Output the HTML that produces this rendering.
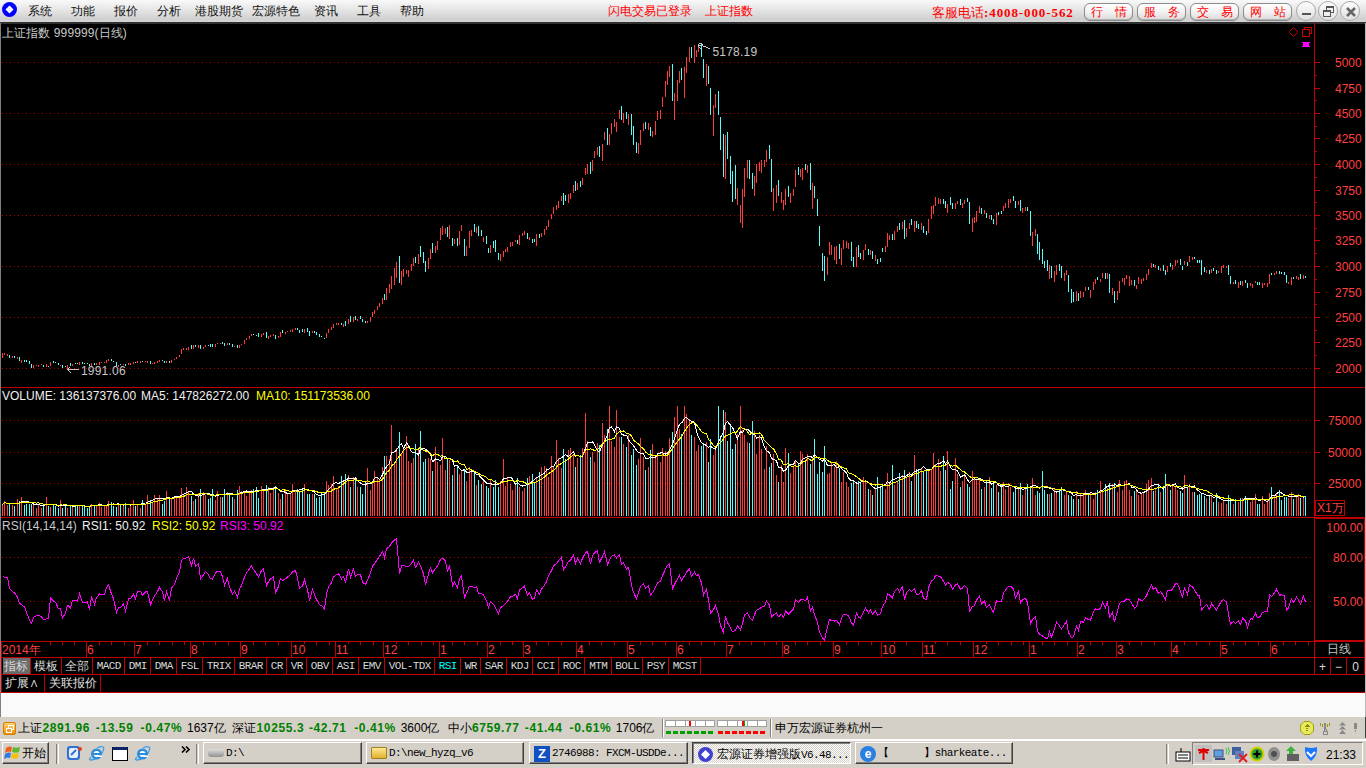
<!DOCTYPE html>
<html><head><meta charset="utf-8">
<style>
*{box-sizing:border-box}
html,body{margin:0;padding:0}
body{width:1366px;height:768px;overflow:hidden;position:relative;background:#000;font-family:"Liberation Sans",sans-serif;font-size:12px}
.a{position:absolute;white-space:nowrap;line-height:1}
#menu{left:0;top:0;width:1366px;height:24px;background:linear-gradient(#f9f9f9,#e5e5e5 45%,#cfcfcf 90%,#d4d4d4 94%);border-bottom:2px solid;border-color:#707070 transparent #303030}
.mi{position:absolute;top:5px;color:#111;font-size:12px;line-height:12px}
.ms{position:absolute;top:2px;width:1px;height:18px;background:linear-gradient(#f8f8f8,#d0d0d0)}
.btn{position:absolute;top:3px;height:18px;width:49px;border:1px solid #8c8c8c;border-radius:6px;background:linear-gradient(#ffffff,#f2f2f2 50%,#dadada);color:#ff0000;font-size:12px;line-height:12px;box-shadow:inset 0 -1px 0 #b0b0b0,0 1px 0 #c8c8c8}
.cb{position:absolute;top:1px;width:20px;height:20px;border-radius:50%;border:1px solid #a8a8a8;background:linear-gradient(#fdfdfd,#e0e0e0)}
.t{color:#c8c8c8}
.ind{position:absolute;top:657px;height:17px;border-right:1px solid #b00000;color:#d0d0d0;font-family:"Liberation Mono",monospace;font-size:11px;line-height:17px;text-align:center}
.ind.cj{font-family:"Liberation Sans",sans-serif;font-size:12px}
.st{position:absolute;top:721px;font-size:12px;line-height:14px;color:#000}
.g{color:#008000;font-weight:bold;letter-spacing:0.6px}
.tb{position:absolute;top:742px;height:24px;border:1px solid;border-color:#fff #404040 #404040 #fff;background:#d4d0c8;font-size:12px;line-height:22px;color:#000}
</style></head><body>
<div id="menu" class="a"></div>
<svg class="a" style="left:1px;top:1px" width="18" height="18"><circle cx="8.5" cy="8.5" r="7.5" fill="#0000ff"/><path d="M8.5 4.5L12.5 8.5L8.5 12.5L4.5 8.5Z" fill="#fff"/></svg>
<div class="mi" style="left:28px">系统</div>
<div class="mi" style="left:71px">功能</div>
<div class="mi" style="left:114px">报价</div>
<div class="mi" style="left:157px">分析</div>
<div class="mi" style="left:195px">港股期货</div>
<div class="mi" style="left:252px">宏源特色</div>
<div class="mi" style="left:314px">资讯</div>
<div class="mi" style="left:357px">工具</div>
<div class="mi" style="left:400px">帮助</div>
<div class="ms" style="left:19px"></div>
<div class="ms" style="left:62px"></div>
<div class="ms" style="left:105px"></div>
<div class="ms" style="left:148px"></div>
<div class="ms" style="left:191px"></div>
<div class="ms" style="left:245px"></div>
<div class="ms" style="left:305px"></div>
<div class="ms" style="left:348px"></div>
<div class="ms" style="left:391px"></div>
<div class="ms" style="left:434px"></div>
<div class="mi" style="left:608px;color:#ff0000">闪电交易已登录<span style="margin-left:13px">上证指数</span></div>
<div class="mi" style="left:932px;top:6px;color:#ff0000;font-size:13px;line-height:13px">客服电话<span style="font-family:'Liberation Serif',serif;font-weight:bold;letter-spacing:0.9px">:4008-000-562</span></div>
<div class="btn" style="left:1083.5px"><span style="position:absolute;left:6px;top:2px">行</span><span style="position:absolute;left:30px;top:2px">情</span></div>
<div class="btn" style="left:1136.5px"><span style="position:absolute;left:6px;top:2px">服</span><span style="position:absolute;left:30px;top:2px">务</span></div>
<div class="btn" style="left:1189.5px"><span style="position:absolute;left:6px;top:2px">交</span><span style="position:absolute;left:30px;top:2px">易</span></div>
<div class="btn" style="left:1242.5px"><span style="position:absolute;left:6px;top:2px">网</span><span style="position:absolute;left:30px;top:2px">站</span></div>
<div class="cb" style="left:1296px"><div style="position:absolute;left:5px;top:11px;width:9px;height:2px;background:#555"></div></div>
<div class="cb" style="left:1318px"><div style="position:absolute;left:7px;top:4px;width:8px;height:7px;border:1px solid #555;border-top-width:2px"></div><div style="position:absolute;left:4px;top:8px;width:8px;height:7px;border:1px solid #555;border-top-width:2px;background:#eee"></div></div>
<div class="cb" style="left:1340px"><svg style="position:absolute;left:4px;top:4px" width="12" height="12"><path d="M2 2L10 10M10 2L2 10" stroke="#666" stroke-width="2.5"/></svg></div>
<svg class="a" style="left:0;top:0" width="1366" height="768" shape-rendering="crispEdges">
<rect x="0" y="692" width="1366" height="26" fill="#fafafa"/>
<rect x="0" y="717" width="1366" height="51" fill="#d4d0c8"/>
<rect x="0" y="387" width="1366" height="1" fill="#c00000"/>
<rect x="0" y="517" width="1366" height="1" fill="#c00000"/>
<rect x="0" y="641" width="1366" height="1" fill="#c00000"/>
<rect x="0" y="657" width="1366" height="1" fill="#c00000"/>
<rect x="0" y="674" width="1366" height="1" fill="#c00000"/>
<rect x="0" y="692" width="1366" height="1" fill="#c00000"/>
<rect x="1314" y="23" width="1" height="618" fill="#c00000"/>
<rect x="1314.5" y="518.5" width="49.5" height="122" fill="none" stroke="#c00000"/>
<rect x="1315.5" y="500.5" width="29" height="15" fill="none" stroke="#c00000"/>
<rect x="1364" y="641" width="1" height="33" fill="#c00000"/>
<rect x="86" y="641" width="1" height="16" fill="#c00000"/>
<rect x="134" y="641" width="1" height="16" fill="#c00000"/>
<rect x="190" y="641" width="1" height="16" fill="#c00000"/>
<rect x="240" y="641" width="1" height="16" fill="#c00000"/>
<rect x="291" y="641" width="1" height="16" fill="#c00000"/>
<rect x="335" y="641" width="1" height="16" fill="#c00000"/>
<rect x="383" y="641" width="1" height="16" fill="#c00000"/>
<rect x="439" y="641" width="1" height="16" fill="#c00000"/>
<rect x="487" y="641" width="1" height="16" fill="#c00000"/>
<rect x="523" y="641" width="1" height="16" fill="#c00000"/>
<rect x="576" y="641" width="1" height="16" fill="#c00000"/>
<rect x="627" y="641" width="1" height="16" fill="#c00000"/>
<rect x="676" y="641" width="1" height="16" fill="#c00000"/>
<rect x="726" y="641" width="1" height="16" fill="#c00000"/>
<rect x="782" y="641" width="1" height="16" fill="#c00000"/>
<rect x="833" y="641" width="1" height="16" fill="#c00000"/>
<rect x="881" y="641" width="1" height="16" fill="#c00000"/>
<rect x="922" y="641" width="1" height="16" fill="#c00000"/>
<rect x="973" y="641" width="1" height="16" fill="#c00000"/>
<rect x="1029" y="641" width="1" height="16" fill="#c00000"/>
<rect x="1077" y="641" width="1" height="16" fill="#c00000"/>
<rect x="1116" y="641" width="1" height="16" fill="#c00000"/>
<rect x="1171" y="641" width="1" height="16" fill="#c00000"/>
<rect x="1220" y="641" width="1" height="16" fill="#c00000"/>
<rect x="1270" y="641" width="1" height="16" fill="#c00000"/>
<rect x="1314" y="641" width="1" height="33" fill="#c00000"/>
<rect x="1" y="641" width="1" height="51" fill="#c00000"/>
<rect x="30" y="657" width="1" height="17" fill="#c00000"/>
<rect x="61" y="657" width="1" height="17" fill="#c00000"/>
<rect x="92" y="657" width="1" height="17" fill="#c00000"/>
<rect x="124" y="657" width="1" height="17" fill="#c00000"/>
<rect x="150" y="657" width="1" height="17" fill="#c00000"/>
<rect x="176" y="657" width="1" height="17" fill="#c00000"/>
<rect x="202" y="657" width="1" height="17" fill="#c00000"/>
<rect x="234" y="657" width="1" height="17" fill="#c00000"/>
<rect x="266" y="657" width="1" height="17" fill="#c00000"/>
<rect x="286" y="657" width="1" height="17" fill="#c00000"/>
<rect x="306" y="657" width="1" height="17" fill="#c00000"/>
<rect x="332" y="657" width="1" height="17" fill="#c00000"/>
<rect x="358" y="657" width="1" height="17" fill="#c00000"/>
<rect x="384" y="657" width="1" height="17" fill="#c00000"/>
<rect x="434" y="657" width="1" height="17" fill="#c00000"/>
<rect x="460" y="657" width="1" height="17" fill="#c00000"/>
<rect x="480" y="657" width="1" height="17" fill="#c00000"/>
<rect x="506" y="657" width="1" height="17" fill="#c00000"/>
<rect x="532" y="657" width="1" height="17" fill="#c00000"/>
<rect x="558" y="657" width="1" height="17" fill="#c00000"/>
<rect x="584" y="657" width="1" height="17" fill="#c00000"/>
<rect x="611" y="657" width="1" height="17" fill="#c00000"/>
<rect x="642" y="657" width="1" height="17" fill="#c00000"/>
<rect x="668" y="657" width="1" height="17" fill="#c00000"/>
<rect x="700" y="657" width="1" height="17" fill="#c00000"/>
<rect x="1330" y="657" width="1" height="17" fill="#c00000"/>
<rect x="1346" y="657" width="1" height="17" fill="#c00000"/>
<rect x="3" y="658" width="27" height="16" fill="#6a6a6a"/>
<rect x="44" y="674" width="1" height="18" fill="#c00000"/>
<rect x="100" y="674" width="1" height="18" fill="#c00000"/>
<rect x="99" y="642" width="1" height="3" fill="#c00000"/>
<rect x="111" y="642" width="1" height="3" fill="#c00000"/>
<rect x="124" y="642" width="1" height="3" fill="#c00000"/>
<rect x="147" y="642" width="1" height="3" fill="#c00000"/>
<rect x="159" y="642" width="1" height="3" fill="#c00000"/>
<rect x="172" y="642" width="1" height="3" fill="#c00000"/>
<rect x="184" y="642" width="1" height="3" fill="#c00000"/>
<rect x="203" y="642" width="1" height="3" fill="#c00000"/>
<rect x="215" y="642" width="1" height="3" fill="#c00000"/>
<rect x="228" y="642" width="1" height="3" fill="#c00000"/>
<rect x="253" y="642" width="1" height="3" fill="#c00000"/>
<rect x="265" y="642" width="1" height="3" fill="#c00000"/>
<rect x="278" y="642" width="1" height="3" fill="#c00000"/>
<rect x="304" y="642" width="1" height="3" fill="#c00000"/>
<rect x="316" y="642" width="1" height="3" fill="#c00000"/>
<rect x="329" y="642" width="1" height="3" fill="#c00000"/>
<rect x="348" y="642" width="1" height="3" fill="#c00000"/>
<rect x="360" y="642" width="1" height="3" fill="#c00000"/>
<rect x="373" y="642" width="1" height="3" fill="#c00000"/>
<rect x="396" y="642" width="1" height="3" fill="#c00000"/>
<rect x="408" y="642" width="1" height="3" fill="#c00000"/>
<rect x="421" y="642" width="1" height="3" fill="#c00000"/>
<rect x="433" y="642" width="1" height="3" fill="#c00000"/>
<rect x="452" y="642" width="1" height="3" fill="#c00000"/>
<rect x="464" y="642" width="1" height="3" fill="#c00000"/>
<rect x="477" y="642" width="1" height="3" fill="#c00000"/>
<rect x="500" y="642" width="1" height="3" fill="#c00000"/>
<rect x="512" y="642" width="1" height="3" fill="#c00000"/>
<rect x="536" y="642" width="1" height="3" fill="#c00000"/>
<rect x="548" y="642" width="1" height="3" fill="#c00000"/>
<rect x="561" y="642" width="1" height="3" fill="#c00000"/>
<rect x="589" y="642" width="1" height="3" fill="#c00000"/>
<rect x="601" y="642" width="1" height="3" fill="#c00000"/>
<rect x="614" y="642" width="1" height="3" fill="#c00000"/>
<rect x="640" y="642" width="1" height="3" fill="#c00000"/>
<rect x="652" y="642" width="1" height="3" fill="#c00000"/>
<rect x="665" y="642" width="1" height="3" fill="#c00000"/>
<rect x="689" y="642" width="1" height="3" fill="#c00000"/>
<rect x="701" y="642" width="1" height="3" fill="#c00000"/>
<rect x="714" y="642" width="1" height="3" fill="#c00000"/>
<rect x="739" y="642" width="1" height="3" fill="#c00000"/>
<rect x="751" y="642" width="1" height="3" fill="#c00000"/>
<rect x="764" y="642" width="1" height="3" fill="#c00000"/>
<rect x="776" y="642" width="1" height="3" fill="#c00000"/>
<rect x="795" y="642" width="1" height="3" fill="#c00000"/>
<rect x="807" y="642" width="1" height="3" fill="#c00000"/>
<rect x="820" y="642" width="1" height="3" fill="#c00000"/>
<rect x="846" y="642" width="1" height="3" fill="#c00000"/>
<rect x="858" y="642" width="1" height="3" fill="#c00000"/>
<rect x="871" y="642" width="1" height="3" fill="#c00000"/>
<rect x="894" y="642" width="1" height="3" fill="#c00000"/>
<rect x="906" y="642" width="1" height="3" fill="#c00000"/>
<rect x="935" y="642" width="1" height="3" fill="#c00000"/>
<rect x="947" y="642" width="1" height="3" fill="#c00000"/>
<rect x="960" y="642" width="1" height="3" fill="#c00000"/>
<rect x="986" y="642" width="1" height="3" fill="#c00000"/>
<rect x="998" y="642" width="1" height="3" fill="#c00000"/>
<rect x="1011" y="642" width="1" height="3" fill="#c00000"/>
<rect x="1023" y="642" width="1" height="3" fill="#c00000"/>
<rect x="1042" y="642" width="1" height="3" fill="#c00000"/>
<rect x="1054" y="642" width="1" height="3" fill="#c00000"/>
<rect x="1067" y="642" width="1" height="3" fill="#c00000"/>
<rect x="1090" y="642" width="1" height="3" fill="#c00000"/>
<rect x="1102" y="642" width="1" height="3" fill="#c00000"/>
<rect x="1129" y="642" width="1" height="3" fill="#c00000"/>
<rect x="1141" y="642" width="1" height="3" fill="#c00000"/>
<rect x="1154" y="642" width="1" height="3" fill="#c00000"/>
<rect x="1184" y="642" width="1" height="3" fill="#c00000"/>
<rect x="1196" y="642" width="1" height="3" fill="#c00000"/>
<rect x="1209" y="642" width="1" height="3" fill="#c00000"/>
<rect x="1233" y="642" width="1" height="3" fill="#c00000"/>
<rect x="1245" y="642" width="1" height="3" fill="#c00000"/>
<rect x="1258" y="642" width="1" height="3" fill="#c00000"/>
<rect x="1283" y="642" width="1" height="3" fill="#c00000"/>
<rect x="1295" y="642" width="1" height="3" fill="#c00000"/>
<rect x="1308" y="642" width="1" height="3" fill="#c00000"/>
<rect x="50" y="642" width="1" height="3" fill="#c00000"/>
<rect x="62" y="642" width="1" height="3" fill="#c00000"/>
<rect x="74" y="642" width="1" height="3" fill="#c00000"/>
<rect x="1315" y="368" width="5" height="1" fill="#c00000"/>
<rect x="1315" y="342" width="5" height="1" fill="#c00000"/>
<rect x="1315" y="317" width="5" height="1" fill="#c00000"/>
<rect x="1315" y="292" width="5" height="1" fill="#c00000"/>
<rect x="1315" y="266" width="5" height="1" fill="#c00000"/>
<rect x="1315" y="240" width="5" height="1" fill="#c00000"/>
<rect x="1315" y="215" width="5" height="1" fill="#c00000"/>
<rect x="1315" y="190" width="5" height="1" fill="#c00000"/>
<rect x="1315" y="164" width="5" height="1" fill="#c00000"/>
<rect x="1315" y="138" width="5" height="1" fill="#c00000"/>
<rect x="1315" y="113" width="5" height="1" fill="#c00000"/>
<rect x="1315" y="88" width="5" height="1" fill="#c00000"/>
<rect x="1315" y="62" width="5" height="1" fill="#c00000"/>
<rect x="1315" y="355" width="2" height="1" fill="#c00000"/>
<rect x="1315" y="330" width="2" height="1" fill="#c00000"/>
<rect x="1315" y="304" width="2" height="1" fill="#c00000"/>
<rect x="1315" y="279" width="2" height="1" fill="#c00000"/>
<rect x="1315" y="253" width="2" height="1" fill="#c00000"/>
<rect x="1315" y="228" width="2" height="1" fill="#c00000"/>
<rect x="1315" y="202" width="2" height="1" fill="#c00000"/>
<rect x="1315" y="177" width="2" height="1" fill="#c00000"/>
<rect x="1315" y="151" width="2" height="1" fill="#c00000"/>
<rect x="1315" y="126" width="2" height="1" fill="#c00000"/>
<rect x="1315" y="100" width="2" height="1" fill="#c00000"/>
<rect x="1315" y="75" width="2" height="1" fill="#c00000"/>
<rect x="1315" y="420" width="5" height="1" fill="#c00000"/>
<rect x="1315" y="452" width="5" height="1" fill="#c00000"/>
<rect x="1315" y="483" width="5" height="1" fill="#c00000"/>
<rect x="0" y="23" width="1" height="694" fill="#808080"/>
<rect x="1365" y="23" width="1" height="715" fill="#b8b8b8"/>
<path d="M1293.5 27.5L1298 32L1293.5 36.5L1289 32Z" fill="none" stroke="#c00000" shape-rendering="auto"/>
<rect x="1304.5" y="27.5" width="7" height="6" fill="none" stroke="#c00000"/><rect x="1302.5" y="29.5" width="7" height="7" fill="#000" stroke="#c00000"/>
<rect x="1303" y="42" width="6" height="5" fill="#ff00ff"/><rect x="1302" y="42" width="1" height="1" fill="#ff00ff"/><rect x="1309" y="42" width="1" height="1" fill="#ff00ff"/><rect x="1302" y="46" width="1" height="1" fill="#ff00ff"/><rect x="1309" y="46" width="1" height="1" fill="#ff00ff"/>
<line x1="2" y1="62.5" x2="1314" y2="62.5" stroke="#b00000" stroke-dasharray="1 3"/>
<line x1="2" y1="113.5" x2="1314" y2="113.5" stroke="#b00000" stroke-dasharray="1 3"/>
<line x1="2" y1="164.5" x2="1314" y2="164.5" stroke="#b00000" stroke-dasharray="1 3"/>
<line x1="2" y1="215.5" x2="1314" y2="215.5" stroke="#b00000" stroke-dasharray="1 3"/>
<line x1="2" y1="266.5" x2="1314" y2="266.5" stroke="#b00000" stroke-dasharray="1 3"/>
<line x1="2" y1="317.5" x2="1314" y2="317.5" stroke="#b00000" stroke-dasharray="1 3"/>
<line x1="2" y1="368.5" x2="1314" y2="368.5" stroke="#b00000" stroke-dasharray="1 3"/>
<line x1="2" y1="420.5" x2="1314" y2="420.5" stroke="#b00000" stroke-dasharray="1 3"/>
<line x1="2" y1="452.5" x2="1314" y2="452.5" stroke="#b00000" stroke-dasharray="1 3"/>
<line x1="2" y1="483.5" x2="1314" y2="483.5" stroke="#b00000" stroke-dasharray="1 3"/>
<line x1="2" y1="557.5" x2="1314" y2="557.5" stroke="#b00000" stroke-dasharray="1 3"/>
<line x1="2" y1="601.5" x2="1314" y2="601.5" stroke="#b00000" stroke-dasharray="1 3"/>
<path d="M2.5 353.0V358.0M4.5 353.0V354.9M7.5 354.0V355.8M12.5 356.0V358.0M17.5 356.9V358.9M21.5 360.0V363.0M33.5 365.0V368.0M36.5 365.0V366.0M38.5 365.0V367.0M41.5 364.0V365.0M46.5 364.0V367.0M50.5 362.0V366.0M60.5 365.0V366.0M67.5 365.0V369.0M72.5 364.0V366.0M79.5 362.0V365.0M91.5 363.0V366.0M96.5 363.0V365.0M99.5 362.0V365.0M101.5 362.0V363.0M104.5 362.0V363.0M106.5 360.0V363.0M108.5 359.0V361.0M118.5 365.0V367.0M123.5 364.0V365.0M128.5 363.0V365.0M130.5 363.0V365.0M133.5 362.0V364.0M137.5 361.0V363.0M140.5 361.0V363.0M145.5 361.0V362.0M147.5 361.0V363.0M152.5 363.0V364.0M154.5 362.0V364.0M157.5 361.0V363.0M159.5 360.0V362.0M166.5 361.0V363.0M171.5 360.0V363.0M174.5 359.0V360.0M176.5 357.0V359.0M179.5 355.0V357.0M181.5 349.0V354.0M183.5 348.0V350.0M186.5 348.0V350.0M188.5 347.0V350.0M193.5 345.0V349.0M198.5 345.0V348.0M203.5 347.0V349.0M205.5 345.0V347.0M215.5 344.0V347.0M217.5 343.0V344.0M220.5 343.0V344.0M227.5 343.0V345.0M234.5 346.0V347.0M239.5 345.0V348.0M241.5 344.0V345.0M244.5 340.0V344.0M246.5 338.0V340.0M249.5 336.0V339.0M251.5 334.0V336.0M261.5 334.0V337.0M263.5 333.0V335.0M268.5 336.0V339.0M270.5 335.0V337.0M273.5 334.0V336.0M278.5 336.0V338.0M280.5 332.0V337.0M285.5 332.0V334.0M287.5 331.0V332.0M290.5 330.0V332.0M292.5 329.0V332.0M295.5 328.0V330.0M304.5 329.0V333.0M312.5 331.0V333.0M326.5 333.0V338.0M328.5 329.0V333.0M331.5 327.0V330.0M333.5 324.0V328.0M336.5 323.0V325.0M338.5 323.0V325.0M343.5 324.0V327.0M348.5 319.0V324.0M353.5 317.0V322.0M357.5 319.0V321.0M367.5 321.0V323.0M370.5 317.0V322.0M372.5 312.0V317.0M374.5 310.0V314.0M377.5 306.0V310.0M379.5 303.0V306.9M382.5 298.0V303.8M386.5 288.0V300.0M389.5 284.0V292.8M391.5 276.0V289.0M394.5 268.0V284.7M396.5 262.0V278.0M401.5 271.0V284.7M403.5 269.0V276.9M406.5 270.0V273.8M408.5 269.7V276.9M411.5 264.0V271.0M413.5 258.0V266.0M418.5 254.0V264.0M428.5 258.0V269.0M430.5 249.0V258.8M435.5 246.0V252.8M437.5 241.0V250.0M440.5 228.0V239.9M442.5 226.0V234.8M445.5 228.0V233.9M449.5 225.0V239.0M454.5 239.0V243.9M459.5 231.0V244.8M461.5 225.0V230.8M466.5 246.0V255.8M469.5 231.0V247.8M471.5 230.0V235.7M476.5 226.9V232.8M483.5 236.9V241.9M490.5 244.8V252.8M500.5 253.9V260.9M503.5 251.0V257.0M505.5 249.0V252.0M507.5 247.0V252.0M510.5 242.0V247.0M512.5 242.0V246.0M515.5 240.0V242.0M519.5 235.0V245.0M522.5 233.0V236.0M524.5 231.0V235.0M529.5 236.8V240.3M536.5 233.9V246.0M541.5 233.0V237.0M544.5 229.0V235.0M546.5 225.9V230.0M548.5 219.8V227.0M551.5 214.0V219.2M553.5 206.9V214.2M556.5 204.8V210.2M558.5 200.8V208.0M561.5 195.8V201.0M568.5 194.0V203.0M570.5 192.8V199.3M573.5 184.6V192.8M577.5 183.0V190.0M582.5 178.0V185.0M585.5 167.8V174.7M587.5 164.0V173.8M592.5 160.0V170.8M594.5 150.9V157.8M597.5 147.0V154.8M602.5 143.9V160.8M604.5 131.8V139.6M609.5 134.0V144.8M611.5 123.0V133.7M614.5 119.0V126.6M616.5 122.0V131.8M619.5 110.0V118.8M623.5 113.0V122.7M628.5 114.0V124.9M638.5 142.8V153.9M640.5 129.8V144.7M643.5 122.8V131.4M648.5 122.8V129.8M652.5 130.6V136.9M655.5 121.0V134.5M657.5 111.0V119.7M660.5 110.0V119.0M662.5 97.0V107.0M665.5 81.0V97.0M667.5 71.0V85.0M669.5 66.0V76.7M674.5 93.0V119.7M677.5 80.0V101.0M679.5 71.0V83.0M684.5 67.0V98.0M686.5 57.0V73.0M689.5 47.0V62.0M694.5 45.0V62.7M696.5 50.0V57.0M698.5 46.0V52.0M706.5 64.0V85.8M713.5 105.0V136.0M715.5 94.0V108.0M725.5 135.0V179.0M737.5 188.0V205.0M740.5 205.0V222.7M742.5 189.0V228.0M744.5 167.5V196.7M747.5 160.0V178.0M754.5 175.8V195.6M756.5 164.4V183.0M759.5 161.9V170.8M761.5 160.0V172.8M764.5 160.0V167.3M766.5 149.8V161.9M773.5 187.8V210.6M776.5 184.9V202.8M781.5 191.7V202.8M783.5 200.0V210.0M785.5 188.8V204.8M790.5 192.7V202.8M793.5 188.8V195.6M795.5 169.7V186.8M800.5 169.3V177.0M802.5 167.7V180.0M807.5 165.0V172.8M812.5 183.0V208.7M827.5 256.7V274.6M829.5 241.9V254.7M831.5 245.0V254.7M834.5 246.9V259.9M836.5 245.8V263.8M841.5 247.9V264.8M843.5 240.0V248.8M846.5 241.0V247.7M848.5 243.0V248.8M856.5 247.0V266.7M863.5 250.0V259.9M865.5 244.0V249.8M870.5 250.0V254.7M875.5 255.0V261.0M885.5 245.8V251.9M887.5 233.0V246.9M889.5 235.0V239.8M894.5 231.0V239.8M897.5 226.0V231.8M902.5 222.0V228.9M906.5 228.0V237.0M909.5 223.0V228.9M914.5 221.0V231.9M921.5 223.0V229.9M928.5 219.0V232.8M931.5 206.0V219.0M933.5 205.0V213.9M935.5 197.0V205.9M938.5 198.0V203.8M940.5 199.0V203.8M947.5 204.0V212.7M955.5 203.0V208.8M957.5 201.0V203.8M962.5 203.0V207.8M964.5 200.0V204.0M972.5 218.0V231.9M974.5 217.0V222.8M976.5 211.0V221.8M979.5 206.0V212.9M984.5 210.0V213.9M989.5 215.0V218.9M996.5 213.0V225.0M1003.5 206.0V211.0M1005.5 203.0V207.8M1008.5 199.0V207.8M1010.5 199.0V203.0M1018.5 201.0V204.9M1022.5 208.0V212.9M1025.5 206.9V210.6M1032.5 231.9V245.5M1035.5 229.0V235.6M1049.5 265.0V278.8M1054.5 271.0V281.9M1056.5 265.0V274.7M1064.5 273.0V281.0M1066.5 270.0V274.7M1076.5 290.8V300.6M1080.5 290.8V297.5M1083.5 291.9V297.0M1085.5 287.0V291.0M1090.5 290.0V298.0M1093.5 282.0V290.0M1095.5 279.0V284.0M1100.5 279.0V282.0M1102.5 273.0V278.0M1107.5 273.0V279.0M1112.5 288.0V295.0M1117.5 291.0V300.0M1119.5 281.0V293.0M1122.5 278.0V282.0M1124.5 278.0V285.0M1126.5 275.0V279.0M1129.5 276.0V286.0M1131.5 280.0V285.0M1136.5 285.0V289.0M1138.5 277.0V284.0M1141.5 279.0V284.0M1143.5 278.0V281.0M1146.5 274.0V280.0M1148.5 269.0V275.0M1151.5 263.0V268.0M1155.5 265.0V268.0M1160.5 268.0V271.0M1167.5 266.0V272.0M1172.5 265.0V270.0M1175.5 260.0V266.0M1177.5 260.0V263.0M1184.5 261.0V265.0M1189.5 256.0V262.0M1192.5 257.0V260.0M1206.5 270.0V273.0M1211.5 269.0V273.0M1218.5 271.0V273.0M1221.5 266.0V273.0M1223.5 265.0V268.0M1226.5 266.0V268.0M1233.5 282.0V284.0M1238.5 282.0V288.0M1242.5 281.0V286.0M1250.5 283.0V286.0M1252.5 284.0V288.0M1255.5 281.0V283.0M1262.5 283.0V288.0M1264.5 283.0V285.0M1267.5 283.0V287.0M1269.5 274.0V284.0M1274.5 273.0V275.0M1276.5 271.0V274.0M1288.5 282.0V284.0M1291.5 277.0V285.0M1296.5 276.0V279.0M1298.5 277.0V280.0M1303.5 275.0V279.0" stroke="#ff3c3c" stroke-width="1" fill="none"/>
<path d="M9.5 354.9V358.0M14.5 356.0V358.0M19.5 357.0V360.9M24.5 360.0V362.0M26.5 360.0V362.0M29.5 361.0V363.9M31.5 364.0V368.0M43.5 365.0V367.0M48.5 366.0V367.0M53.5 361.0V363.0M55.5 362.0V363.0M58.5 363.0V365.0M62.5 365.0V368.0M65.5 366.0V367.0M70.5 363.0V366.0M75.5 363.0V364.0M77.5 363.0V364.0M82.5 362.0V364.0M84.5 363.0V364.0M87.5 363.0V364.0M89.5 364.0V366.0M94.5 363.0V365.0M111.5 359.0V361.0M113.5 361.0V362.0M116.5 362.0V366.0M120.5 364.0V365.0M125.5 364.0V366.0M135.5 362.0V363.0M142.5 361.0V362.0M150.5 361.0V364.0M162.5 360.0V361.0M164.5 361.0V363.0M169.5 361.0V363.0M191.5 345.0V349.0M195.5 345.0V347.0M200.5 345.0V349.0M208.5 345.0V346.0M210.5 344.0V347.0M212.5 344.0V347.0M222.5 342.0V344.0M224.5 343.0V346.0M229.5 343.0V345.0M232.5 344.0V347.0M237.5 345.0V348.0M253.5 334.0V335.0M256.5 335.0V336.0M258.5 333.0V337.0M266.5 332.0V338.0M275.5 335.0V339.0M282.5 330.0V333.0M297.5 328.0V330.0M299.5 330.0V333.0M302.5 329.0V332.0M307.5 328.0V332.0M309.5 331.0V336.0M314.5 331.0V333.0M316.5 332.0V335.0M319.5 334.0V337.0M321.5 336.0V337.0M324.5 338.0V339.0M341.5 323.0V325.0M345.5 321.0V326.0M350.5 316.0V322.0M355.5 316.0V320.0M360.5 316.0V319.0M362.5 319.0V322.0M365.5 321.0V323.0M384.5 294.0V300.0M399.5 256.0V282.7M415.5 257.0V262.8M420.5 246.0V256.9M423.5 251.9V262.8M425.5 261.0V271.7M432.5 243.0V253.0M447.5 226.9V236.9M452.5 238.0V246.0M457.5 238.0V246.0M464.5 239.2V255.8M474.5 224.0V231.7M478.5 226.0V235.7M481.5 230.0V235.7M486.5 236.0V243.9M488.5 247.8V252.8M493.5 241.0V247.8M495.5 240.0V252.0M498.5 252.8V260.0M517.5 240.0V244.0M527.5 233.0V238.8M532.5 238.8V243.0M534.5 238.8V242.0M539.5 233.9V238.0M563.5 193.0V205.0M565.5 195.0V201.0M575.5 181.0V191.0M580.5 180.8V186.8M590.5 162.0V173.8M599.5 145.7V156.9M607.5 127.9V144.8M621.5 105.8V119.7M626.5 111.9V118.8M631.5 114.0V134.8M633.5 126.0V144.8M636.5 141.8V153.0M645.5 122.0V129.0M650.5 126.7V135.6M672.5 64.0V101.0M681.5 68.0V80.0M691.5 47.0V58.0M701.5 43.7V56.7M703.5 59.3V77.6M708.5 66.0V84.0M710.5 88.0V114.7M718.5 91.0V115.0M720.5 117.0V150.0M723.5 134.0V177.0M727.5 132.0V159.0M730.5 156.0V184.0M732.5 170.6V202.0M735.5 165.0V198.8M749.5 160.0V179.0M752.5 172.7V189.4M769.5 144.9V159.0M771.5 159.0V191.7M778.5 180.0V195.6M788.5 185.9V197.0M798.5 167.0V175.0M805.5 163.8V169.7M810.5 163.0V189.8M814.5 185.9V197.6M817.5 199.0V215.7M819.5 225.9V245.8M822.5 252.8V270.7M824.5 256.0V280.5M839.5 244.0V258.9M851.5 242.0V260.6M853.5 257.0V266.7M858.5 245.0V256.8M860.5 253.0V258.9M868.5 249.0V254.7M872.5 251.0V258.9M877.5 259.0V263.8M880.5 258.0V261.7M882.5 248.0V251.9M892.5 233.9V239.8M899.5 223.0V230.0M904.5 220.0V238.8M911.5 219.0V225.0M916.5 221.0V227.8M918.5 224.0V228.9M923.5 226.0V232.8M926.5 231.0V234.8M943.5 199.0V203.8M945.5 201.0V207.8M950.5 197.0V204.9M952.5 203.0V208.8M960.5 199.0V204.9M967.5 198.0V201.8M969.5 202.0V223.8M981.5 208.0V214.0M986.5 213.0V218.0M991.5 215.0V219.9M993.5 219.0V223.9M998.5 212.0V214.8M1001.5 211.0V214.0M1013.5 196.0V200.9M1015.5 201.0V207.8M1020.5 200.0V210.9M1027.5 206.9V210.6M1030.5 211.0V235.6M1037.5 234.0V253.8M1039.5 241.9V259.5M1042.5 249.0V263.8M1044.5 261.0V267.8M1047.5 260.0V271.0M1051.5 266.0V277.8M1059.5 264.0V271.0M1061.5 266.0V277.8M1068.5 275.0V291.9M1071.5 288.8V302.8M1073.5 291.9V301.7M1078.5 292.8V300.6M1088.5 287.0V290.0M1097.5 277.0V280.0M1105.5 273.0V279.0M1109.5 274.0V293.0M1114.5 291.0V303.0M1134.5 280.0V286.0M1153.5 264.0V267.0M1158.5 266.0V270.0M1163.5 265.0V271.0M1165.5 270.0V275.0M1170.5 263.0V267.0M1180.5 259.0V265.0M1182.5 266.0V270.0M1187.5 262.0V266.0M1194.5 257.0V259.0M1197.5 260.0V263.0M1199.5 260.0V263.0M1201.5 260.0V275.0M1204.5 267.0V272.0M1209.5 270.0V274.0M1213.5 268.0V271.0M1216.5 270.0V274.0M1228.5 265.0V275.0M1230.5 276.0V284.0M1235.5 280.0V284.0M1240.5 281.0V285.0M1245.5 280.0V283.0M1247.5 283.0V288.0M1257.5 282.0V285.0M1259.5 282.0V285.0M1271.5 273.0V275.0M1279.5 271.0V274.0M1281.5 272.0V274.0M1284.5 272.0V275.0M1286.5 275.0V283.0M1293.5 277.0V279.0M1300.5 274.0V279.0M1305.5 276.0V278.0" stroke="#54fcfc" stroke-width="1" fill="none"/>
<path d="M2.5 516V504.5M4.5 516V500.9M7.5 516V505.0M12.5 516V505.3M17.5 516V499.4M21.5 516V496.7M33.5 516V503.2M36.5 516V508.0M38.5 516V503.7M41.5 516V507.8M46.5 516V497.3M50.5 516V506.6M60.5 516V500.1M67.5 516V508.0M72.5 516V505.9M79.5 516V505.8M91.5 516V503.7M96.5 516V505.4M99.5 516V503.1M101.5 516V507.2M104.5 516V506.2M106.5 516V504.7M108.5 516V501.0M118.5 516V502.8M123.5 516V506.2M128.5 516V507.5M130.5 516V505.8M133.5 516V499.8M137.5 516V503.6M140.5 516V507.5M145.5 516V504.6M147.5 516V494.6M152.5 516V501.8M154.5 516V495.1M157.5 516V498.4M159.5 516V495.2M166.5 516V491.1M171.5 516V498.1M174.5 516V496.0M176.5 516V497.5M179.5 516V496.1M181.5 516V488.2M183.5 516V494.7M186.5 516V487.0M188.5 516V492.3M193.5 516V501.2M198.5 516V492.7M203.5 516V491.5M205.5 516V494.5M215.5 516V499.6M217.5 516V490.9M220.5 516V497.2M227.5 516V491.5M234.5 516V499.4M239.5 516V485.8M241.5 516V490.7M244.5 516V493.1M246.5 516V495.6M249.5 516V490.7M251.5 516V489.7M261.5 516V486.4M263.5 516V488.6M268.5 516V486.8M270.5 516V493.3M273.5 516V486.5M278.5 516V492.9M280.5 516V499.3M285.5 516V489.1M287.5 516V493.7M290.5 516V493.7M292.5 516V484.4M295.5 516V490.7M304.5 516V484.2M312.5 516V493.9M326.5 516V480.7M328.5 516V484.9M331.5 516V484.3M333.5 516V475.7M336.5 516V487.5M338.5 516V485.7M343.5 516V480.0M348.5 516V474.7M353.5 516V477.1M357.5 516V486.8M367.5 516V467.7M370.5 516V490.3M372.5 516V481.0M374.5 516V470.6M377.5 516V476.5M379.5 516V479.1M382.5 516V466.8M386.5 516V456.4M389.5 516V459.0M391.5 516V424.8M394.5 516V463.0M396.5 516V447.6M401.5 516V452.8M403.5 516V447.1M406.5 516V435.5M408.5 516V460.7M411.5 516V463.0M413.5 516V458.2M418.5 516V449.4M428.5 516V458.3M430.5 516V458.5M435.5 516V447.2M437.5 516V461.7M440.5 516V465.0M442.5 516V437.6M445.5 516V469.7M449.5 516V459.6M454.5 516V468.1M459.5 516V473.6M461.5 516V471.0M466.5 516V480.9M469.5 516V467.1M471.5 516V470.1M476.5 516V484.7M483.5 516V481.4M490.5 516V480.2M500.5 516V480.8M503.5 516V459.0M505.5 516V485.7M507.5 516V476.8M510.5 516V483.7M512.5 516V490.4M515.5 516V484.8M519.5 516V486.6M522.5 516V490.8M524.5 516V488.3M529.5 516V475.7M536.5 516V477.8M541.5 516V466.7M544.5 516V465.9M546.5 516V468.1M548.5 516V476.7M551.5 516V455.7M553.5 516V467.0M556.5 516V439.6M558.5 516V457.8M561.5 516V468.2M568.5 516V449.6M570.5 516V447.8M573.5 516V454.1M577.5 516V458.2M582.5 516V448.1M585.5 516V412.5M587.5 516V440.8M592.5 516V451.8M594.5 516V461.8M597.5 516V442.9M602.5 516V423.4M604.5 516V434.5M609.5 516V406.0M611.5 516V441.3M614.5 516V447.1M616.5 516V410.0M619.5 516V437.0M623.5 516V443.7M628.5 516V435.3M638.5 516V458.9M640.5 516V438.4M643.5 516V457.3M648.5 516V466.9M652.5 516V444.0M655.5 516V456.1M657.5 516V453.0M660.5 516V462.2M662.5 516V447.7M665.5 516V451.2M667.5 516V453.0M669.5 516V437.8M674.5 516V416.9M677.5 516V406.0M679.5 516V429.0M684.5 516V406.0M686.5 516V413.6M689.5 516V419.2M694.5 516V437.4M696.5 516V451.1M698.5 516V444.5M706.5 516V441.9M713.5 516V455.3M715.5 516V449.0M725.5 516V412.1M737.5 516V433.7M740.5 516V406.0M742.5 516V429.7M744.5 516V434.6M747.5 516V441.6M754.5 516V431.3M756.5 516V453.8M759.5 516V435.0M761.5 516V448.7M764.5 516V469.0M766.5 516V445.5M773.5 516V454.0M776.5 516V474.9M781.5 516V464.5M783.5 516V482.1M785.5 516V447.8M790.5 516V473.1M793.5 516V466.9M795.5 516V460.6M800.5 516V450.9M802.5 516V454.1M807.5 516V453.6M812.5 516V457.9M827.5 516V474.2M829.5 516V473.4M831.5 516V463.0M834.5 516V466.9M836.5 516V461.4M841.5 516V482.4M843.5 516V472.0M846.5 516V481.5M848.5 516V486.6M856.5 516V484.4M863.5 516V477.2M865.5 516V481.6M870.5 516V490.2M875.5 516V488.1M885.5 516V488.7M887.5 516V472.9M889.5 516V484.3M894.5 516V484.5M897.5 516V482.3M902.5 516V475.4M906.5 516V477.2M909.5 516V472.3M914.5 516V455.1M921.5 516V468.0M928.5 516V470.7M931.5 516V468.8M933.5 516V452.8M935.5 516V464.3M938.5 516V459.2M940.5 516V470.5M947.5 516V450.9M955.5 516V458.0M957.5 516V473.5M962.5 516V481.1M964.5 516V473.9M972.5 516V471.0M974.5 516V478.9M976.5 516V478.8M979.5 516V477.9M984.5 516V486.6M989.5 516V476.6M996.5 516V484.8M1003.5 516V482.1M1005.5 516V488.7M1008.5 516V483.4M1010.5 516V487.2M1018.5 516V489.0M1022.5 516V494.8M1025.5 516V486.5M1032.5 516V477.8M1035.5 516V494.8M1049.5 516V493.6M1054.5 516V487.8M1056.5 516V492.3M1064.5 516V494.6M1066.5 516V492.2M1076.5 516V491.3M1080.5 516V493.3M1083.5 516V492.5M1085.5 516V489.8M1090.5 516V491.7M1093.5 516V498.7M1095.5 516V491.9M1100.5 516V480.5M1102.5 516V490.5M1107.5 516V487.8M1112.5 516V483.6M1117.5 516V491.8M1119.5 516V479.6M1122.5 516V489.6M1124.5 516V480.5M1126.5 516V479.8M1129.5 516V489.6M1131.5 516V496.1M1136.5 516V491.4M1138.5 516V495.2M1141.5 516V492.5M1143.5 516V492.3M1146.5 516V484.2M1148.5 516V480.1M1151.5 516V478.1M1155.5 516V488.4M1160.5 516V492.4M1167.5 516V485.3M1172.5 516V484.2M1175.5 516V487.0M1177.5 516V490.1M1184.5 516V475.3M1189.5 516V483.6M1192.5 516V492.4M1206.5 516V498.3M1211.5 516V495.8M1218.5 516V502.2M1221.5 516V503.2M1223.5 516V500.5M1226.5 516V503.5M1233.5 516V504.4M1238.5 516V502.0M1242.5 516V497.9M1250.5 516V501.9M1252.5 516V498.4M1255.5 516V493.7M1262.5 516V496.4M1264.5 516V503.6M1267.5 516V500.1M1269.5 516V493.2M1274.5 516V495.8M1276.5 516V492.6M1288.5 516V497.9M1291.5 516V492.2M1296.5 516V496.0M1298.5 516V494.4M1303.5 516V498.4" stroke="#ff3c3c" fill="none"/>
<path d="M9.5 516V502.5M14.5 516V505.7M19.5 516V501.3M24.5 516V504.6M26.5 516V504.0M29.5 516V504.1M31.5 516V504.0M43.5 516V505.5M48.5 516V506.0M53.5 516V505.1M55.5 516V506.3M58.5 516V508.3M62.5 516V507.8M65.5 516V505.4M70.5 516V504.7M75.5 516V505.5M77.5 516V506.0M82.5 516V505.9M84.5 516V506.4M87.5 516V507.7M89.5 516V505.6M94.5 516V505.2M111.5 516V502.4M113.5 516V505.6M116.5 516V507.1M120.5 516V503.5M125.5 516V502.7M135.5 516V505.6M142.5 516V500.2M150.5 516V500.4M162.5 516V503.9M164.5 516V500.7M169.5 516V498.6M191.5 516V496.0M195.5 516V499.0M200.5 516V488.7M208.5 516V499.4M210.5 516V497.5M212.5 516V489.0M222.5 516V497.2M224.5 516V489.2M229.5 516V494.5M232.5 516V497.2M237.5 516V489.5M253.5 516V489.4M256.5 516V487.2M258.5 516V497.8M266.5 516V485.2M275.5 516V485.9M282.5 516V493.6M297.5 516V489.4M299.5 516V491.7M302.5 516V488.7M307.5 516V494.1M309.5 516V493.9M314.5 516V493.7M316.5 516V497.6M319.5 516V496.9M321.5 516V492.3M324.5 516V492.0M341.5 516V475.9M345.5 516V473.7M350.5 516V486.9M355.5 516V477.4M360.5 516V486.7M362.5 516V493.5M365.5 516V481.2M384.5 516V455.6M399.5 516V431.5M415.5 516V443.9M420.5 516V431.1M423.5 516V461.9M425.5 516V459.1M432.5 516V471.3M447.5 516V458.4M452.5 516V474.9M457.5 516V466.4M464.5 516V468.6M474.5 516V471.2M478.5 516V480.4M481.5 516V483.5M486.5 516V486.2M488.5 516V487.6M493.5 516V486.7M495.5 516V479.6M498.5 516V487.2M517.5 516V477.6M527.5 516V477.9M532.5 516V473.7M534.5 516V483.3M539.5 516V471.7M563.5 516V449.0M565.5 516V459.1M575.5 516V467.4M580.5 516V455.1M590.5 516V456.5M599.5 516V445.0M607.5 516V429.1M621.5 516V437.3M626.5 516V446.8M631.5 516V454.5M633.5 516V448.7M636.5 516V465.3M645.5 516V470.3M650.5 516V450.0M672.5 516V432.2M681.5 516V433.5M691.5 516V434.7M701.5 516V445.8M703.5 516V443.1M708.5 516V461.9M710.5 516V439.0M718.5 516V406.0M720.5 516V438.8M723.5 516V410.1M727.5 516V441.2M730.5 516V423.9M732.5 516V449.3M735.5 516V444.3M749.5 516V443.0M752.5 516V420.7M769.5 516V466.7M771.5 516V462.7M778.5 516V481.5M788.5 516V453.3M798.5 516V463.8M805.5 516V459.9M810.5 516V463.7M814.5 516V438.9M817.5 516V473.8M819.5 516V462.2M822.5 516V472.4M824.5 516V445.6M839.5 516V468.1M851.5 516V482.6M853.5 516V480.7M858.5 516V481.1M860.5 516V482.8M868.5 516V488.9M872.5 516V494.9M877.5 516V476.6M880.5 516V485.8M882.5 516V483.8M892.5 516V465.2M899.5 516V473.0M904.5 516V470.4M911.5 516V481.4M916.5 516V469.4M918.5 516V469.9M923.5 516V471.4M926.5 516V469.4M943.5 516V455.9M945.5 516V470.1M950.5 516V488.6M952.5 516V480.9M960.5 516V486.5M967.5 516V483.6M969.5 516V487.2M981.5 516V489.1M986.5 516V479.9M991.5 516V487.9M993.5 516V483.9M998.5 516V491.6M1001.5 516V484.8M1013.5 516V492.1M1015.5 516V488.6M1020.5 516V483.3M1027.5 516V484.3M1030.5 516V485.6M1037.5 516V490.5M1039.5 516V493.1M1042.5 516V471.2M1044.5 516V489.7M1047.5 516V493.6M1051.5 516V492.8M1059.5 516V489.4M1061.5 516V486.9M1068.5 516V494.9M1071.5 516V496.2M1073.5 516V498.9M1078.5 516V498.5M1088.5 516V495.2M1097.5 516V490.2M1105.5 516V484.3M1109.5 516V483.4M1114.5 516V482.8M1134.5 516V490.9M1153.5 516V490.8M1158.5 516V483.5M1163.5 516V489.2M1165.5 516V473.5M1170.5 516V490.0M1180.5 516V491.4M1182.5 516V492.6M1187.5 516V486.9M1194.5 516V491.9M1197.5 516V494.9M1199.5 516V493.9M1201.5 516V494.3M1204.5 516V495.8M1209.5 516V494.7M1213.5 516V501.7M1216.5 516V493.2M1228.5 516V495.3M1230.5 516V499.7M1235.5 516V499.3M1240.5 516V497.6M1245.5 516V495.9M1247.5 516V499.4M1257.5 516V504.0M1259.5 516V504.0M1271.5 516V486.9M1279.5 516V490.1M1281.5 516V499.9M1284.5 516V497.3M1286.5 516V497.0M1293.5 516V498.7M1300.5 516V497.7M1305.5 516V496.0" stroke="#54fcfc" fill="none"/>
<polyline points="2.5,504.5 4.5,502.7 7.5,503.5 9.5,503.2 12.5,503.6 14.5,503.9 17.5,503.6 19.5,502.8 21.5,501.7 24.5,501.5 26.5,501.2 29.5,502.1 31.5,502.7 33.5,504.0 36.5,504.6 38.5,504.6 41.5,505.3 43.5,505.6 46.5,504.5 48.5,504.1 50.5,504.6 53.5,504.1 55.5,504.3 58.5,506.4 60.5,505.3 62.5,505.5 65.5,505.6 67.5,505.9 70.5,505.2 72.5,506.3 75.5,505.9 77.5,506.0 79.5,505.6 82.5,505.8 84.5,505.9 87.5,506.4 89.5,506.3 91.5,505.9 94.5,505.7 96.5,505.5 99.5,504.6 101.5,504.9 104.5,505.4 106.5,505.3 108.5,504.4 111.5,504.3 113.5,504.0 116.5,504.1 118.5,503.8 120.5,504.3 123.5,505.0 125.5,504.4 128.5,504.5 130.5,505.1 133.5,504.4 135.5,504.3 137.5,504.4 140.5,504.5 142.5,503.3 145.5,504.3 147.5,502.1 150.5,501.5 152.5,500.3 154.5,499.3 157.5,498.1 159.5,498.2 162.5,498.9 164.5,498.7 166.5,497.9 169.5,497.9 171.5,498.5 174.5,496.9 176.5,496.2 179.5,497.2 181.5,495.2 183.5,494.5 186.5,492.7 188.5,491.6 191.5,491.6 193.5,494.2 195.5,495.1 198.5,496.2 200.5,495.5 203.5,494.6 205.5,493.3 208.5,493.4 210.5,494.3 212.5,494.4 215.5,496.0 217.5,495.3 220.5,494.8 222.5,494.8 224.5,494.8 227.5,493.2 229.5,493.9 232.5,493.9 234.5,494.3 237.5,494.4 239.5,493.3 241.5,492.5 244.5,491.7 246.5,491.0 249.5,491.2 251.5,492.0 253.5,491.7 256.5,490.5 258.5,491.0 261.5,490.1 263.5,489.9 266.5,489.1 268.5,489.0 270.5,488.1 273.5,488.1 275.5,487.5 278.5,489.1 280.5,491.6 282.5,491.6 285.5,492.2 287.5,493.7 290.5,493.9 292.5,490.9 295.5,490.3 297.5,490.4 299.5,490.0 302.5,489.0 304.5,488.9 307.5,489.6 309.5,490.5 312.5,491.0 314.5,492.0 316.5,494.7 319.5,495.2 321.5,494.9 324.5,494.5 326.5,491.9 328.5,489.4 331.5,486.8 333.5,483.5 336.5,482.6 338.5,483.6 341.5,481.8 343.5,481.0 345.5,480.6 348.5,478.0 350.5,478.2 353.5,478.5 355.5,478.0 357.5,480.6 360.5,483.0 362.5,484.3 365.5,485.1 367.5,483.2 370.5,483.9 372.5,482.7 374.5,478.1 377.5,477.2 379.5,479.5 382.5,474.8 384.5,469.7 386.5,466.9 389.5,463.4 391.5,452.5 394.5,451.8 396.5,450.2 399.5,445.2 401.5,443.9 403.5,448.4 406.5,442.9 408.5,445.5 411.5,451.8 413.5,452.9 415.5,452.3 418.5,455.0 420.5,449.1 423.5,448.9 425.5,449.1 428.5,451.9 430.5,453.8 432.5,461.8 435.5,458.9 437.5,459.4 440.5,460.7 442.5,456.6 445.5,456.2 447.5,458.5 449.5,458.1 452.5,460.0 454.5,466.1 457.5,465.5 459.5,468.5 461.5,470.8 464.5,469.6 466.5,472.1 469.5,472.2 471.5,471.5 474.5,471.6 476.5,474.8 478.5,474.7 481.5,478.0 483.5,480.2 486.5,483.2 488.5,483.8 490.5,483.8 493.5,484.4 495.5,484.0 498.5,484.3 500.5,482.9 503.5,478.7 505.5,478.5 507.5,477.9 510.5,477.2 512.5,479.1 515.5,484.3 517.5,482.7 519.5,484.6 522.5,486.0 524.5,485.6 527.5,484.2 529.5,483.9 532.5,481.3 534.5,479.8 536.5,477.7 539.5,476.4 541.5,474.6 544.5,473.1 546.5,470.0 548.5,469.8 551.5,466.6 553.5,466.7 556.5,461.4 558.5,459.4 561.5,457.7 563.5,456.3 565.5,454.7 568.5,456.7 570.5,454.7 573.5,451.9 575.5,455.6 577.5,455.4 580.5,456.5 582.5,456.6 585.5,448.2 587.5,442.9 590.5,442.6 592.5,441.9 594.5,444.7 597.5,450.7 599.5,451.6 602.5,445.0 604.5,441.5 607.5,435.0 609.5,427.6 611.5,426.9 614.5,431.6 616.5,426.7 619.5,428.3 621.5,434.6 623.5,435.0 626.5,435.0 628.5,440.0 631.5,443.5 633.5,445.8 636.5,450.1 638.5,452.6 640.5,453.2 643.5,453.7 645.5,458.0 648.5,458.3 650.5,456.6 652.5,457.7 655.5,457.5 657.5,454.0 660.5,453.0 662.5,452.6 665.5,454.0 667.5,453.4 669.5,450.4 672.5,444.4 674.5,438.2 677.5,429.2 679.5,424.4 681.5,423.5 684.5,418.3 686.5,417.6 689.5,420.2 691.5,421.4 694.5,422.2 696.5,431.2 698.5,437.4 701.5,442.7 703.5,444.4 706.5,445.3 708.5,447.4 710.5,446.3 713.5,448.2 715.5,449.4 718.5,442.2 720.5,437.6 723.5,431.8 725.5,423.2 727.5,421.7 730.5,425.2 732.5,427.3 735.5,434.2 737.5,438.5 740.5,431.4 742.5,432.6 744.5,429.6 747.5,429.1 749.5,431.0 752.5,433.9 754.5,434.2 756.5,438.1 759.5,436.8 761.5,437.9 764.5,447.6 766.5,450.4 769.5,453.0 771.5,458.5 773.5,459.6 776.5,460.7 778.5,467.9 781.5,467.5 783.5,471.4 785.5,470.1 788.5,465.8 790.5,464.1 793.5,464.6 795.5,460.3 798.5,463.5 800.5,463.1 802.5,459.3 805.5,457.9 807.5,456.5 810.5,456.4 812.5,457.8 814.5,454.8 817.5,457.6 819.5,459.3 822.5,461.1 824.5,458.6 827.5,465.6 829.5,465.6 831.5,465.7 834.5,464.6 836.5,467.8 839.5,466.6 841.5,468.4 843.5,470.2 846.5,473.1 848.5,478.1 851.5,481.0 853.5,480.7 856.5,483.1 858.5,483.1 860.5,482.3 863.5,481.2 865.5,481.4 868.5,482.3 870.5,484.1 872.5,486.6 875.5,488.7 877.5,487.7 880.5,487.1 882.5,485.8 885.5,484.6 887.5,481.6 889.5,483.1 892.5,479.0 894.5,479.1 897.5,477.9 899.5,477.9 902.5,476.1 904.5,477.1 906.5,475.7 909.5,473.7 911.5,475.3 914.5,471.3 916.5,471.1 918.5,469.6 921.5,468.8 923.5,466.8 926.5,469.6 928.5,469.9 931.5,469.6 933.5,466.6 935.5,465.2 938.5,463.1 940.5,463.1 943.5,460.5 945.5,464.0 947.5,461.3 950.5,467.2 952.5,469.3 955.5,469.7 957.5,470.4 960.5,477.5 962.5,476.0 964.5,474.6 967.5,479.7 969.5,482.5 972.5,479.4 974.5,478.9 976.5,479.9 979.5,478.7 981.5,479.1 984.5,482.3 986.5,482.5 989.5,482.0 991.5,484.1 993.5,483.0 996.5,482.7 998.5,485.0 1001.5,486.6 1003.5,485.5 1005.5,486.4 1008.5,486.1 1010.5,485.2 1013.5,486.7 1015.5,488.0 1018.5,488.0 1020.5,488.0 1022.5,489.6 1025.5,488.4 1027.5,487.6 1030.5,486.9 1032.5,485.8 1035.5,485.8 1037.5,486.6 1039.5,488.4 1042.5,485.5 1044.5,487.9 1047.5,487.6 1049.5,488.2 1051.5,488.2 1054.5,491.5 1056.5,492.0 1059.5,491.2 1061.5,489.8 1064.5,490.2 1066.5,491.1 1068.5,491.6 1071.5,493.0 1073.5,495.4 1076.5,494.7 1078.5,496.0 1080.5,495.6 1083.5,494.9 1085.5,493.1 1088.5,493.8 1090.5,492.5 1093.5,493.6 1095.5,493.4 1097.5,493.5 1100.5,490.6 1102.5,490.3 1105.5,487.4 1107.5,486.6 1109.5,485.3 1112.5,485.9 1114.5,484.4 1117.5,485.9 1119.5,484.2 1122.5,485.5 1124.5,484.9 1126.5,484.3 1129.5,483.8 1131.5,487.1 1134.5,487.4 1136.5,489.6 1138.5,492.6 1141.5,493.2 1143.5,492.5 1146.5,491.1 1148.5,488.9 1151.5,485.5 1153.5,485.1 1155.5,484.3 1158.5,484.2 1160.5,486.7 1163.5,488.9 1165.5,485.4 1167.5,484.8 1170.5,486.1 1172.5,484.4 1175.5,484.0 1177.5,487.3 1180.5,488.5 1182.5,489.1 1184.5,487.3 1187.5,487.3 1189.5,486.0 1192.5,486.2 1194.5,486.0 1197.5,490.0 1199.5,491.4 1201.5,493.5 1204.5,494.2 1206.5,495.4 1209.5,495.4 1211.5,495.8 1213.5,497.3 1216.5,496.7 1218.5,497.5 1221.5,499.2 1223.5,500.2 1226.5,500.5 1228.5,500.9 1230.5,500.4 1233.5,500.7 1235.5,500.4 1238.5,500.1 1240.5,500.6 1242.5,500.2 1245.5,498.5 1247.5,498.5 1250.5,498.5 1252.5,498.7 1255.5,497.8 1257.5,499.5 1259.5,500.4 1262.5,499.3 1264.5,500.3 1267.5,501.6 1269.5,499.5 1271.5,496.0 1274.5,495.9 1276.5,493.7 1279.5,491.7 1281.5,493.1 1284.5,495.1 1286.5,495.4 1288.5,496.4 1291.5,496.9 1293.5,496.6 1296.5,496.4 1298.5,495.8 1300.5,495.8 1303.5,497.1 1305.5,496.5" stroke="#ffffff" fill="none"/>
<polyline points="2.5,504.5 4.5,502.7 7.5,503.5 9.5,503.2 12.5,503.6 14.5,504.0 17.5,503.3 19.5,503.1 21.5,502.4 24.5,502.6 26.5,502.5 29.5,502.9 31.5,502.8 33.5,502.8 36.5,503.1 38.5,502.9 41.5,503.7 43.5,504.2 46.5,504.2 48.5,504.4 50.5,504.6 53.5,504.7 55.5,504.9 58.5,505.5 60.5,504.7 62.5,505.1 65.5,504.8 67.5,505.1 70.5,505.8 72.5,505.8 75.5,505.7 77.5,505.8 79.5,505.7 82.5,505.5 84.5,506.1 87.5,506.1 89.5,506.1 91.5,505.7 94.5,505.8 96.5,505.7 99.5,505.5 101.5,505.6 104.5,505.6 106.5,505.5 108.5,505.0 111.5,504.4 113.5,504.4 116.5,504.8 118.5,504.5 120.5,504.3 123.5,504.7 125.5,504.2 128.5,504.3 130.5,504.4 133.5,504.3 135.5,504.6 137.5,504.4 140.5,504.5 142.5,504.2 145.5,504.3 147.5,503.2 150.5,503.0 152.5,502.4 154.5,501.3 157.5,501.2 159.5,500.1 162.5,500.2 164.5,499.5 166.5,498.6 169.5,498.0 171.5,498.3 174.5,497.9 176.5,497.5 179.5,497.6 181.5,496.5 183.5,496.5 186.5,494.8 188.5,493.9 191.5,494.4 193.5,494.7 195.5,494.8 198.5,494.5 200.5,493.6 203.5,493.1 205.5,493.8 208.5,494.2 210.5,495.3 212.5,495.0 215.5,495.3 217.5,494.3 220.5,494.1 222.5,494.6 224.5,494.6 227.5,494.6 229.5,494.6 232.5,494.4 234.5,494.6 237.5,494.6 239.5,493.2 241.5,493.2 244.5,492.8 246.5,492.7 249.5,492.8 251.5,492.6 253.5,492.1 256.5,491.1 258.5,491.0 261.5,490.6 263.5,490.9 266.5,490.4 268.5,489.7 270.5,489.5 273.5,489.1 275.5,488.7 278.5,489.1 280.5,490.3 282.5,489.8 285.5,490.1 287.5,490.6 290.5,491.5 292.5,491.2 295.5,491.0 297.5,491.3 299.5,491.9 302.5,491.4 304.5,489.9 307.5,490.0 309.5,490.5 312.5,490.5 314.5,490.5 316.5,491.8 319.5,492.4 321.5,492.7 324.5,492.7 326.5,491.9 328.5,492.0 331.5,491.0 333.5,489.2 336.5,488.6 338.5,487.8 341.5,485.6 343.5,483.9 345.5,482.0 348.5,480.3 350.5,480.9 353.5,480.2 355.5,479.5 357.5,480.6 360.5,480.5 362.5,481.3 365.5,481.8 367.5,480.6 370.5,482.2 372.5,482.9 374.5,481.2 377.5,481.2 379.5,481.3 382.5,479.3 384.5,476.2 386.5,472.5 389.5,470.3 391.5,466.0 394.5,463.3 396.5,459.9 399.5,456.0 401.5,453.7 403.5,450.5 406.5,447.3 408.5,447.8 411.5,448.5 413.5,448.4 415.5,450.3 418.5,449.0 420.5,447.3 423.5,450.4 425.5,451.0 428.5,452.1 430.5,454.4 432.5,455.5 435.5,453.9 437.5,454.2 440.5,456.3 442.5,455.2 445.5,459.0 447.5,458.7 449.5,458.7 452.5,460.4 454.5,461.3 457.5,460.9 459.5,463.5 461.5,464.4 464.5,464.8 466.5,469.1 469.5,468.9 471.5,470.0 474.5,471.2 476.5,472.2 478.5,473.4 481.5,475.1 483.5,475.9 486.5,477.4 488.5,479.3 490.5,479.2 493.5,481.2 495.5,482.1 498.5,483.7 500.5,483.4 503.5,481.2 505.5,481.4 507.5,481.0 510.5,480.7 512.5,481.0 515.5,481.5 517.5,480.6 519.5,481.3 522.5,481.6 524.5,482.4 527.5,484.3 529.5,483.3 532.5,482.9 534.5,482.9 536.5,481.6 539.5,480.3 541.5,479.2 544.5,477.2 546.5,474.9 548.5,473.7 551.5,471.5 553.5,470.6 556.5,467.2 558.5,464.7 561.5,463.7 563.5,461.5 565.5,460.7 568.5,459.1 570.5,457.1 573.5,454.8 575.5,456.0 577.5,455.1 580.5,456.6 582.5,455.7 585.5,450.1 587.5,449.3 590.5,449.0 592.5,449.2 594.5,450.6 597.5,449.5 599.5,447.3 602.5,443.8 604.5,441.7 607.5,439.8 609.5,439.2 611.5,439.2 614.5,438.3 616.5,434.1 619.5,431.6 621.5,431.1 623.5,431.0 626.5,433.3 628.5,433.4 631.5,435.9 633.5,440.2 636.5,442.6 638.5,443.8 640.5,446.6 643.5,448.6 645.5,451.9 648.5,454.2 650.5,454.6 652.5,455.4 655.5,455.6 657.5,456.0 660.5,455.7 662.5,454.6 665.5,455.9 667.5,455.4 669.5,452.2 672.5,448.7 674.5,445.4 677.5,441.6 679.5,438.9 681.5,436.9 684.5,431.3 686.5,427.9 689.5,424.7 691.5,422.9 694.5,422.8 696.5,424.7 698.5,427.5 701.5,431.5 703.5,432.9 706.5,433.7 708.5,439.3 710.5,441.8 713.5,445.5 715.5,446.9 718.5,443.7 720.5,442.5 723.5,439.1 725.5,435.7 727.5,435.5 730.5,433.7 732.5,432.5 735.5,433.0 737.5,430.8 740.5,426.5 742.5,428.9 744.5,428.5 747.5,431.6 749.5,434.7 752.5,432.7 754.5,433.4 756.5,433.9 759.5,432.9 761.5,434.4 764.5,440.7 766.5,442.3 769.5,445.5 771.5,447.6 773.5,448.7 776.5,454.1 778.5,459.2 781.5,460.2 783.5,464.9 785.5,464.8 788.5,463.3 790.5,466.0 793.5,466.1 795.5,465.9 798.5,466.8 800.5,464.4 802.5,461.7 805.5,461.2 807.5,458.4 810.5,460.0 812.5,460.5 814.5,457.0 817.5,457.7 819.5,457.9 822.5,458.7 824.5,458.2 827.5,460.2 829.5,461.6 831.5,462.5 834.5,462.8 836.5,463.2 839.5,466.1 841.5,467.0 843.5,467.9 846.5,468.8 848.5,472.9 851.5,473.8 853.5,474.5 856.5,476.7 858.5,478.1 860.5,480.2 863.5,481.1 865.5,481.0 868.5,482.7 870.5,483.6 872.5,484.4 875.5,485.0 877.5,484.6 880.5,484.7 882.5,485.0 885.5,485.6 887.5,485.1 889.5,485.4 892.5,483.0 894.5,482.5 897.5,481.2 899.5,479.7 902.5,479.6 904.5,478.1 906.5,477.4 909.5,475.8 911.5,476.6 914.5,473.7 916.5,474.1 918.5,472.6 921.5,471.2 923.5,471.1 926.5,470.5 928.5,470.5 931.5,469.6 933.5,467.7 935.5,466.0 938.5,466.4 940.5,466.5 943.5,465.1 945.5,465.3 947.5,463.2 950.5,465.2 952.5,466.2 955.5,465.1 957.5,467.2 960.5,469.4 962.5,471.6 964.5,471.9 967.5,474.7 969.5,476.4 972.5,478.4 974.5,477.5 976.5,477.2 979.5,479.2 981.5,480.8 984.5,480.8 986.5,480.7 989.5,481.0 991.5,481.4 993.5,481.1 996.5,482.5 998.5,483.7 1001.5,484.3 1003.5,484.8 1005.5,484.7 1008.5,484.4 1010.5,485.1 1013.5,486.7 1015.5,486.7 1018.5,487.2 1020.5,487.1 1022.5,487.4 1025.5,487.6 1027.5,487.8 1030.5,487.5 1032.5,486.9 1035.5,487.7 1037.5,487.5 1039.5,488.0 1042.5,486.2 1044.5,486.8 1047.5,486.7 1049.5,487.4 1051.5,488.3 1054.5,488.5 1056.5,489.9 1059.5,489.4 1061.5,489.0 1064.5,489.2 1066.5,491.3 1068.5,491.8 1071.5,492.1 1073.5,492.6 1076.5,492.5 1078.5,493.5 1080.5,493.6 1083.5,493.9 1085.5,494.2 1088.5,494.3 1090.5,494.2 1093.5,494.6 1095.5,494.2 1097.5,493.3 1100.5,492.2 1102.5,491.4 1105.5,490.5 1107.5,490.0 1109.5,489.4 1112.5,488.2 1114.5,487.3 1117.5,486.7 1119.5,485.4 1122.5,485.4 1124.5,485.4 1126.5,484.3 1129.5,484.9 1131.5,485.7 1134.5,486.4 1136.5,487.2 1138.5,488.5 1141.5,488.5 1143.5,489.8 1146.5,489.3 1148.5,489.2 1151.5,489.1 1153.5,489.2 1155.5,488.4 1158.5,487.7 1160.5,487.8 1163.5,487.2 1165.5,485.3 1167.5,484.6 1170.5,485.1 1172.5,485.5 1175.5,486.4 1177.5,486.4 1180.5,486.7 1182.5,487.6 1184.5,485.9 1187.5,485.6 1189.5,486.6 1192.5,487.4 1194.5,487.5 1197.5,488.6 1199.5,489.3 1201.5,489.7 1204.5,490.2 1206.5,490.7 1209.5,492.7 1211.5,493.6 1213.5,495.4 1216.5,495.5 1218.5,496.5 1221.5,497.3 1223.5,498.0 1226.5,498.9 1228.5,498.8 1230.5,499.0 1233.5,500.0 1235.5,500.3 1238.5,500.3 1240.5,500.8 1242.5,500.3 1245.5,499.6 1247.5,499.5 1250.5,499.3 1252.5,499.6 1255.5,499.0 1257.5,499.0 1259.5,499.5 1262.5,498.9 1264.5,499.5 1267.5,499.7 1269.5,499.5 1271.5,498.2 1274.5,497.6 1276.5,497.0 1279.5,496.7 1281.5,496.3 1284.5,495.6 1286.5,495.7 1288.5,495.1 1291.5,494.3 1293.5,494.8 1296.5,495.8 1298.5,495.6 1300.5,496.1 1303.5,497.0 1305.5,496.6" stroke="#ffff00" fill="none"/>
<polyline points="2.5,576.7 4.5,577.1 7.5,577.7 9.5,588.3 12.5,591.9 14.5,592.7 17.5,597.3 19.5,603.4 21.5,604.6 24.5,607.0 26.5,612.3 29.5,620.3 31.5,623.3 33.5,617.3 36.5,615.9 38.5,615.1 41.5,616.8 43.5,619.5 46.5,618.8 48.5,618.3 50.5,597.8 53.5,601.2 55.5,602.2 58.5,608.8 60.5,608.9 62.5,617.8 65.5,613.1 67.5,605.2 70.5,608.1 72.5,600.1 75.5,600.7 77.5,601.2 79.5,593.9 82.5,602.2 84.5,602.4 87.5,601.9 89.5,609.7 91.5,596.9 94.5,604.4 96.5,597.6 99.5,594.0 101.5,594.3 104.5,594.6 106.5,587.6 108.5,584.7 111.5,594.1 113.5,598.5 116.5,612.4 118.5,607.7 120.5,607.8 123.5,603.8 125.5,610.8 128.5,598.9 130.5,598.8 133.5,594.4 135.5,598.8 137.5,591.4 140.5,591.1 142.5,595.5 145.5,591.9 147.5,591.3 150.5,604.7 152.5,599.8 154.5,595.9 157.5,591.6 159.5,587.4 162.5,592.0 164.5,600.5 166.5,591.8 169.5,599.7 171.5,588.1 174.5,584.3 176.5,578.3 179.5,572.3 181.5,560.5 183.5,558.6 186.5,558.0 188.5,556.4 191.5,565.4 193.5,557.9 195.5,566.4 198.5,563.5 200.5,578.8 203.5,575.0 205.5,571.4 208.5,574.7 210.5,578.9 212.5,579.1 215.5,572.9 217.5,571.1 220.5,571.7 222.5,576.7 224.5,585.4 227.5,578.5 229.5,586.8 232.5,594.0 234.5,591.1 237.5,597.4 239.5,588.6 241.5,585.8 244.5,577.1 246.5,572.9 249.5,568.9 251.5,565.8 253.5,569.6 256.5,573.6 258.5,576.9 261.5,570.6 263.5,568.6 266.5,586.1 268.5,581.3 270.5,579.0 273.5,576.9 275.5,592.8 278.5,586.4 280.5,578.5 282.5,580.7 285.5,578.8 287.5,577.0 290.5,574.7 292.5,571.9 295.5,570.5 297.5,578.2 299.5,588.2 302.5,586.1 304.5,579.8 307.5,589.6 309.5,600.8 312.5,589.6 314.5,594.6 316.5,599.7 319.5,604.9 321.5,605.2 324.5,609.1 326.5,594.3 328.5,586.9 331.5,582.9 333.5,576.9 336.5,574.7 338.5,573.6 341.5,578.8 343.5,576.7 345.5,582.0 348.5,569.1 350.5,577.3 353.5,569.2 355.5,576.7 357.5,574.7 360.5,574.6 362.5,582.1 365.5,584.7 367.5,580.0 370.5,573.2 372.5,565.9 374.5,563.8 377.5,559.3 379.5,556.2 382.5,551.6 384.5,557.9 386.5,548.7 389.5,546.6 391.5,542.8 394.5,540.1 396.5,538.6 399.5,573.5 401.5,566.0 403.5,565.3 406.5,566.9 408.5,566.8 411.5,563.4 413.5,560.4 415.5,567.3 418.5,562.0 420.5,565.8 423.5,573.7 425.5,584.5 428.5,574.0 430.5,567.9 432.5,572.7 435.5,568.5 437.5,565.9 440.5,559.4 442.5,558.2 445.5,561.1 447.5,572.1 449.5,565.4 452.5,585.7 454.5,581.8 457.5,587.6 459.5,579.0 461.5,575.9 464.5,597.7 466.5,593.3 469.5,586.1 471.5,586.4 474.5,587.9 476.5,586.4 478.5,593.5 481.5,593.8 483.5,595.0 486.5,600.6 488.5,607.2 490.5,601.5 493.5,604.4 495.5,607.7 498.5,613.6 500.5,608.0 503.5,605.4 505.5,603.2 507.5,601.4 510.5,596.7 512.5,596.6 515.5,594.3 517.5,598.4 519.5,589.9 522.5,587.9 524.5,586.1 527.5,595.3 529.5,592.9 532.5,599.6 534.5,598.2 536.5,589.9 539.5,594.3 541.5,589.2 544.5,585.2 546.5,581.5 548.5,575.5 551.5,570.8 553.5,565.6 556.5,563.8 558.5,560.7 561.5,557.2 563.5,570.2 565.5,566.7 568.5,561.5 570.5,560.5 573.5,554.7 575.5,563.7 577.5,558.3 580.5,563.5 582.5,558.3 585.5,553.0 587.5,551.3 590.5,563.9 592.5,556.3 594.5,552.6 597.5,550.8 599.5,562.4 602.5,556.6 604.5,551.8 607.5,564.5 609.5,560.2 611.5,556.3 614.5,555.0 616.5,557.9 619.5,554.5 621.5,564.7 623.5,562.7 626.5,568.9 628.5,567.2 631.5,585.1 633.5,592.3 636.5,598.4 638.5,592.8 640.5,586.7 643.5,583.5 645.5,588.5 648.5,585.6 650.5,595.0 652.5,592.7 655.5,587.4 657.5,582.4 660.5,581.6 662.5,575.7 665.5,569.2 667.5,565.4 669.5,563.9 672.5,588.7 674.5,584.5 677.5,578.8 679.5,575.2 681.5,580.7 684.5,575.8 686.5,572.2 689.5,568.9 691.5,576.5 694.5,572.1 696.5,575.6 698.5,574.5 701.5,582.8 703.5,595.4 706.5,589.2 708.5,600.1 710.5,613.3 713.5,609.5 715.5,605.4 718.5,614.2 720.5,625.3 723.5,632.6 725.5,615.9 727.5,622.5 730.5,628.2 732.5,631.7 735.5,630.2 737.5,625.7 740.5,629.8 742.5,623.6 744.5,615.2 747.5,612.3 749.5,617.5 752.5,620.3 754.5,614.6 756.5,610.2 759.5,608.8 761.5,607.1 764.5,606.2 766.5,601.1 769.5,605.1 771.5,616.9 773.5,614.9 776.5,612.9 778.5,616.7 781.5,614.3 783.5,617.5 785.5,611.1 788.5,614.0 790.5,611.8 793.5,609.1 795.5,599.3 798.5,602.5 800.5,600.0 802.5,599.5 805.5,600.6 807.5,597.3 810.5,611.1 812.5,607.3 814.5,614.5 817.5,622.3 819.5,632.2 822.5,638.2 824.5,640.0 827.5,626.8 829.5,619.6 831.5,620.5 834.5,621.0 836.5,620.1 839.5,625.0 841.5,618.3 843.5,614.1 846.5,614.7 848.5,615.6 851.5,622.9 853.5,625.4 856.5,612.8 858.5,617.3 860.5,618.2 863.5,612.1 865.5,608.1 868.5,612.7 870.5,609.6 872.5,614.1 875.5,611.0 877.5,615.4 880.5,613.9 882.5,606.5 885.5,602.0 887.5,593.7 889.5,594.8 892.5,598.0 894.5,591.7 897.5,588.4 899.5,591.6 902.5,586.5 904.5,599.6 906.5,592.8 909.5,589.7 911.5,591.3 914.5,588.7 916.5,594.0 918.5,594.9 921.5,590.5 923.5,598.5 926.5,599.6 928.5,587.8 931.5,580.5 933.5,579.8 935.5,575.4 938.5,576.2 940.5,576.7 943.5,581.3 945.5,585.2 947.5,582.2 950.5,584.3 952.5,589.1 955.5,584.9 957.5,583.9 960.5,589.3 962.5,588.0 964.5,585.3 967.5,588.3 969.5,611.5 972.5,606.3 974.5,605.8 976.5,600.1 979.5,596.1 981.5,604.4 984.5,600.7 986.5,607.6 989.5,604.8 991.5,609.0 993.5,612.2 996.5,600.6 998.5,601.7 1001.5,601.0 1003.5,592.8 1005.5,590.1 1008.5,586.3 1010.5,586.1 1013.5,588.9 1015.5,598.0 1018.5,591.5 1020.5,603.0 1022.5,599.7 1025.5,598.4 1027.5,602.6 1030.5,623.5 1032.5,619.7 1035.5,616.7 1037.5,631.2 1039.5,634.1 1042.5,635.9 1044.5,637.5 1047.5,638.9 1049.5,631.6 1051.5,636.9 1054.5,628.5 1056.5,622.1 1059.5,625.8 1061.5,629.2 1064.5,624.3 1066.5,621.3 1068.5,632.7 1071.5,637.6 1073.5,636.8 1076.5,625.9 1078.5,630.5 1080.5,621.6 1083.5,622.2 1085.5,617.7 1088.5,619.6 1090.5,620.0 1093.5,611.7 1095.5,608.9 1097.5,609.9 1100.5,608.5 1102.5,602.4 1105.5,607.7 1107.5,601.5 1109.5,617.3 1112.5,612.4 1114.5,621.8 1117.5,611.2 1119.5,603.4 1122.5,601.1 1124.5,601.3 1126.5,598.7 1129.5,599.9 1131.5,603.0 1134.5,608.1 1136.5,606.7 1138.5,598.9 1141.5,600.6 1143.5,599.8 1146.5,595.8 1148.5,590.7 1151.5,585.2 1153.5,589.7 1155.5,587.6 1158.5,593.5 1160.5,591.6 1163.5,595.5 1165.5,599.9 1167.5,590.1 1170.5,590.9 1172.5,589.1 1175.5,583.7 1177.5,583.7 1180.5,591.0 1182.5,598.1 1184.5,587.7 1187.5,594.3 1189.5,585.0 1192.5,586.6 1194.5,589.8 1197.5,595.2 1199.5,595.3 1201.5,610.1 1204.5,606.3 1206.5,604.5 1209.5,609.2 1211.5,603.2 1213.5,606.2 1216.5,610.4 1218.5,606.4 1221.5,600.8 1223.5,599.9 1226.5,601.7 1228.5,614.5 1230.5,624.0 1233.5,621.4 1235.5,623.7 1238.5,620.8 1240.5,624.4 1242.5,618.1 1245.5,621.0 1247.5,627.1 1250.5,618.4 1252.5,619.2 1255.5,613.5 1257.5,617.7 1259.5,617.3 1262.5,612.6 1264.5,611.6 1267.5,611.2 1269.5,595.0 1271.5,596.5 1274.5,593.0 1276.5,589.4 1279.5,595.3 1281.5,594.7 1284.5,595.9 1286.5,610.5 1288.5,608.0 1291.5,598.7 1293.5,602.5 1296.5,597.1 1298.5,599.6 1300.5,604.0 1303.5,596.3 1305.5,601.7" stroke="#ff00ff" fill="none"/>
</svg>
<div class="a t" style="left:2px;top:27px;letter-spacing:0.1px">上证指数 999999(日线)</div>
<div class="a" style="left:1335px;top:363px;color:#ff4040">2000</div>
<div class="a" style="left:1335px;top:337px;color:#ff4040">2250</div>
<div class="a" style="left:1335px;top:312px;color:#ff4040">2500</div>
<div class="a" style="left:1335px;top:287px;color:#ff4040">2750</div>
<div class="a" style="left:1335px;top:261px;color:#ff4040">3000</div>
<div class="a" style="left:1335px;top:235px;color:#ff4040">3250</div>
<div class="a" style="left:1335px;top:210px;color:#ff4040">3500</div>
<div class="a" style="left:1335px;top:185px;color:#ff4040">3750</div>
<div class="a" style="left:1335px;top:159px;color:#ff4040">4000</div>
<div class="a" style="left:1335px;top:133px;color:#ff4040">4250</div>
<div class="a" style="left:1335px;top:108px;color:#ff4040">4500</div>
<div class="a" style="left:1335px;top:83px;color:#ff4040">4750</div>
<div class="a" style="left:1335px;top:57px;color:#ff4040">5000</div>
<div class="a" style="left:1328px;top:415px;color:#ff4040">75000</div>
<div class="a" style="left:1328px;top:447px;color:#ff4040">50000</div>
<div class="a" style="left:1328px;top:478px;color:#ff4040">25000</div>
<div class="a" style="left:1317px;top:502px;color:#ff4040">X1万</div>
<div class="a" style="right:3px;top:522px;color:#ff4040">100.00</div>
<div class="a" style="right:3px;top:552px;color:#ff4040">80.00</div>
<div class="a" style="right:3px;top:596px;color:#ff4040">50.00</div>
<div class="a" style="left:2px;top:390px;color:#f0f0f0">VOLUME: 136137376.00</div><div class="a" style="left:141px;top:390px;color:#f0f0f0">MA5: 147826272.00</div><div class="a" style="left:256px;top:390px;color:#ffff00">MA10: 151173536.00</div>
<div class="a" style="left:2px;top:520px;color:#c8c8c8">RSI(14,14,14)</div><div class="a" style="left:82px;top:520px;color:#f0f0f0">RSI1: 50.92</div><div class="a" style="left:152px;top:520px;color:#ffff00">RSI2: 50.92</div><div class="a" style="left:220px;top:520px;color:#ff00ff">RSI3: 50.92</div>
<div class="a t" style="left:712.5px;top:46px;letter-spacing:0.2px">5178.19</div>
<svg class="a" style="left:696px;top:41px" width="20" height="10" shape-rendering="crispEdges"><rect x="3" y="2" width="3" height="1" fill="#c8c8c8"/><rect x="2" y="3" width="1" height="3" fill="#c8c8c8"/><rect x="6" y="3" width="1" height="2" fill="#c8c8c8"/><rect x="3" y="4" width="3" height="1" fill="#c8c8c8"/><rect x="3" y="6" width="1" height="1" fill="#c8c8c8"/><rect x="4" y="7" width="1" height="1" fill="#c8c8c8"/><rect x="7" y="5" width="3" height="1" fill="#c8c8c8"/><rect x="10" y="6" width="2" height="1" fill="#c8c8c8"/><rect x="12" y="7" width="2" height="1" fill="#c8c8c8"/></svg>
<div class="a t" style="left:81px;top:365px;letter-spacing:0.2px">1991.06</div>
<svg class="a" style="left:66px;top:364px" width="14" height="12" shape-rendering="crispEdges"><rect x="1" y="5" width="12" height="1" fill="#c8c8c8"/><rect x="2" y="4" width="1" height="1" fill="#c8c8c8"/><rect x="3" y="3" width="1" height="1" fill="#c8c8c8"/><rect x="2" y="6" width="1" height="1" fill="#c8c8c8"/><rect x="3" y="7" width="1" height="1" fill="#c8c8c8"/><rect x="4" y="8" width="1" height="1" fill="#c8c8c8"/></svg>
<div class="a" style="left:2px;top:644px;color:#ff4040;background:#000;padding-right:1px;height:12px">2014年</div>
<div class="a" style="left:87px;top:644px;color:#ff4040;background:#000;padding-right:1px;height:12px">6</div>
<div class="a" style="left:135px;top:644px;color:#ff4040;background:#000;padding-right:1px;height:12px">7</div>
<div class="a" style="left:191px;top:644px;color:#ff4040;background:#000;padding-right:1px;height:12px">8</div>
<div class="a" style="left:241px;top:644px;color:#ff4040;background:#000;padding-right:1px;height:12px">9</div>
<div class="a" style="left:292px;top:644px;color:#ff4040;background:#000;padding-right:1px;height:12px">10</div>
<div class="a" style="left:336px;top:644px;color:#ff4040;background:#000;padding-right:1px;height:12px">11</div>
<div class="a" style="left:384px;top:644px;color:#ff4040;background:#000;padding-right:1px;height:12px">12</div>
<div class="a" style="left:440px;top:644px;color:#ff4040;background:#000;padding-right:1px;height:12px">1</div>
<div class="a" style="left:488px;top:644px;color:#ff4040;background:#000;padding-right:1px;height:12px">2</div>
<div class="a" style="left:524px;top:644px;color:#ff4040;background:#000;padding-right:1px;height:12px">3</div>
<div class="a" style="left:577px;top:644px;color:#ff4040;background:#000;padding-right:1px;height:12px">4</div>
<div class="a" style="left:628px;top:644px;color:#ff4040;background:#000;padding-right:1px;height:12px">5</div>
<div class="a" style="left:677px;top:644px;color:#ff4040;background:#000;padding-right:1px;height:12px">6</div>
<div class="a" style="left:727px;top:644px;color:#ff4040;background:#000;padding-right:1px;height:12px">7</div>
<div class="a" style="left:783px;top:644px;color:#ff4040;background:#000;padding-right:1px;height:12px">8</div>
<div class="a" style="left:834px;top:644px;color:#ff4040;background:#000;padding-right:1px;height:12px">9</div>
<div class="a" style="left:882px;top:644px;color:#ff4040;background:#000;padding-right:1px;height:12px">10</div>
<div class="a" style="left:923px;top:644px;color:#ff4040;background:#000;padding-right:1px;height:12px">11</div>
<div class="a" style="left:974px;top:644px;color:#ff4040;background:#000;padding-right:1px;height:12px">12</div>
<div class="a" style="left:1030px;top:644px;color:#ff4040;background:#000;padding-right:1px;height:12px">1</div>
<div class="a" style="left:1078px;top:644px;color:#ff4040;background:#000;padding-right:1px;height:12px">2</div>
<div class="a" style="left:1117px;top:644px;color:#ff4040;background:#000;padding-right:1px;height:12px">3</div>
<div class="a" style="left:1172px;top:644px;color:#ff4040;background:#000;padding-right:1px;height:12px">4</div>
<div class="a" style="left:1221px;top:644px;color:#ff4040;background:#000;padding-right:1px;height:12px">5</div>
<div class="a" style="left:1271px;top:644px;color:#ff4040;background:#000;padding-right:1px;height:12px">6</div>
<div class="a t" style="left:1327px;top:643px">日线</div>
<div class="a" style="left:2px;top:660px;width:28px;text-align:center;color:#d8d8d8;font-size:12px;line-height:12px">指标</div>
<div class="a" style="left:31px;top:660px;width:30px;text-align:center;color:#d8d8d8;font-size:12px;line-height:12px">模板</div>
<div class="a" style="left:62px;top:660px;width:30px;text-align:center;color:#d8d8d8;font-size:12px;line-height:12px">全部</div>
<div class="a" style="left:93px;top:661px;width:31px;text-align:center;color:#d8d8d8;font-family:'Liberation Mono',monospace;font-size:11px;line-height:11px;letter-spacing:-0.6px;text-indent:0.6px">MACD</div>
<div class="a" style="left:125px;top:661px;width:25px;text-align:center;color:#d8d8d8;font-family:'Liberation Mono',monospace;font-size:11px;line-height:11px;letter-spacing:-0.6px;text-indent:0.6px">DMI</div>
<div class="a" style="left:151px;top:661px;width:25px;text-align:center;color:#d8d8d8;font-family:'Liberation Mono',monospace;font-size:11px;line-height:11px;letter-spacing:-0.6px;text-indent:0.6px">DMA</div>
<div class="a" style="left:177px;top:661px;width:25px;text-align:center;color:#d8d8d8;font-family:'Liberation Mono',monospace;font-size:11px;line-height:11px;letter-spacing:-0.6px;text-indent:0.6px">FSL</div>
<div class="a" style="left:203px;top:661px;width:31px;text-align:center;color:#d8d8d8;font-family:'Liberation Mono',monospace;font-size:11px;line-height:11px;letter-spacing:-0.6px;text-indent:0.6px">TRIX</div>
<div class="a" style="left:235px;top:661px;width:31px;text-align:center;color:#d8d8d8;font-family:'Liberation Mono',monospace;font-size:11px;line-height:11px;letter-spacing:-0.6px;text-indent:0.6px">BRAR</div>
<div class="a" style="left:267px;top:661px;width:19px;text-align:center;color:#d8d8d8;font-family:'Liberation Mono',monospace;font-size:11px;line-height:11px;letter-spacing:-0.6px;text-indent:0.6px">CR</div>
<div class="a" style="left:287px;top:661px;width:19px;text-align:center;color:#d8d8d8;font-family:'Liberation Mono',monospace;font-size:11px;line-height:11px;letter-spacing:-0.6px;text-indent:0.6px">VR</div>
<div class="a" style="left:307px;top:661px;width:25px;text-align:center;color:#d8d8d8;font-family:'Liberation Mono',monospace;font-size:11px;line-height:11px;letter-spacing:-0.6px;text-indent:0.6px">OBV</div>
<div class="a" style="left:333px;top:661px;width:25px;text-align:center;color:#d8d8d8;font-family:'Liberation Mono',monospace;font-size:11px;line-height:11px;letter-spacing:-0.6px;text-indent:0.6px">ASI</div>
<div class="a" style="left:359px;top:661px;width:25px;text-align:center;color:#d8d8d8;font-family:'Liberation Mono',monospace;font-size:11px;line-height:11px;letter-spacing:-0.6px;text-indent:0.6px">EMV</div>
<div class="a" style="left:385px;top:661px;width:49px;text-align:center;color:#d8d8d8;font-family:'Liberation Mono',monospace;font-size:11px;line-height:11px;letter-spacing:-0.6px;text-indent:0.6px">VOL-TDX</div>
<div class="a" style="left:435px;top:661px;width:25px;text-align:center;color:#00ffff;font-family:'Liberation Mono',monospace;font-size:11px;line-height:11px;letter-spacing:-0.6px;text-indent:0.6px">RSI</div>
<div class="a" style="left:461px;top:661px;width:19px;text-align:center;color:#d8d8d8;font-family:'Liberation Mono',monospace;font-size:11px;line-height:11px;letter-spacing:-0.6px;text-indent:0.6px">WR</div>
<div class="a" style="left:481px;top:661px;width:25px;text-align:center;color:#d8d8d8;font-family:'Liberation Mono',monospace;font-size:11px;line-height:11px;letter-spacing:-0.6px;text-indent:0.6px">SAR</div>
<div class="a" style="left:507px;top:661px;width:25px;text-align:center;color:#d8d8d8;font-family:'Liberation Mono',monospace;font-size:11px;line-height:11px;letter-spacing:-0.6px;text-indent:0.6px">KDJ</div>
<div class="a" style="left:533px;top:661px;width:25px;text-align:center;color:#d8d8d8;font-family:'Liberation Mono',monospace;font-size:11px;line-height:11px;letter-spacing:-0.6px;text-indent:0.6px">CCI</div>
<div class="a" style="left:559px;top:661px;width:25px;text-align:center;color:#d8d8d8;font-family:'Liberation Mono',monospace;font-size:11px;line-height:11px;letter-spacing:-0.6px;text-indent:0.6px">ROC</div>
<div class="a" style="left:585px;top:661px;width:26px;text-align:center;color:#d8d8d8;font-family:'Liberation Mono',monospace;font-size:11px;line-height:11px;letter-spacing:-0.6px;text-indent:0.6px">MTM</div>
<div class="a" style="left:612px;top:661px;width:30px;text-align:center;color:#d8d8d8;font-family:'Liberation Mono',monospace;font-size:11px;line-height:11px;letter-spacing:-0.6px;text-indent:0.6px">BOLL</div>
<div class="a" style="left:643px;top:661px;width:25px;text-align:center;color:#d8d8d8;font-family:'Liberation Mono',monospace;font-size:11px;line-height:11px;letter-spacing:-0.6px;text-indent:0.6px">PSY</div>
<div class="a" style="left:669px;top:661px;width:31px;text-align:center;color:#d8d8d8;font-family:'Liberation Mono',monospace;font-size:11px;line-height:11px;letter-spacing:-0.6px;text-indent:0.6px">MCST</div>
<div class="a" style="left:1315px;top:661px;width:15px;text-align:center;color:#d8d8d8;font-size:12px;line-height:12px">+</div>
<div class="a" style="left:1331px;top:661px;width:15px;text-align:center;color:#d8d8d8;font-size:12px;line-height:12px">−</div>
<div class="a" style="left:1347px;top:661px;width:17px;text-align:center;color:#d8d8d8;font-size:12px;line-height:12px">0</div>
<div class="a" style="left:5px;top:677px;color:#e0e0e0">扩展∧</div>
<div class="a" style="left:49px;top:677px;color:#e0e0e0">关联报价</div>
<div class="a" style="left:0;top:739px;width:1366px;height:1px;background:#ffffff"></div>
<div class="a" style="left:3px;top:722px;width:13px;height:13px;background:linear-gradient(#ffd070,#f09000);border:1px solid #d08000;border-radius:2px"><div style="position:absolute;left:4px;top:2px;width:6px;height:5px;border:1px solid #fff"></div><div style="position:absolute;left:2px;top:5px;width:6px;height:5px;border:1px solid #fff;background:#f0a030"></div></div>
<div class="st " style="left:18px;">上证</div>
<div class="st g" style="left:42.5px;">2891.96</div>
<div class="st g" style="left:95.8px;">-13.59</div>
<div class="st g" style="left:140.6px;">-0.47%</div>
<div class="st " style="left:187px;">1637亿</div>
<div class="st " style="left:232px;">深证</div>
<div class="st g" style="left:256.6px;">10255.3</div>
<div class="st g" style="left:309px;">-42.71</div>
<div class="st g" style="left:354.2px;">-0.41%</div>
<div class="st " style="left:400.7px;">3600亿</div>
<div class="st " style="left:447.5px;">中小</div>
<div class="st g" style="left:472px;">6759.77</div>
<div class="st g" style="left:524.8px;">-41.44</div>
<div class="st g" style="left:569.6px;">-0.61%</div>
<div class="st " style="left:615.8px;">1706亿</div>
<div class="st " style="left:775px;">申万宏源证券杭州一</div>
<div class="a" style="left:662px;top:719px;width:2px;height:18px;border-left:1px solid #808080;border-right:1px solid #fff"></div>
<div class="a" style="left:770px;top:719px;width:2px;height:18px;border-left:1px solid #808080;border-right:1px solid #fff"></div>
<div class="a" style="left:665px;top:720px;width:50px;height:7px;background:#fff;border:1px solid #a0a0a0"></div>
<div class="a" style="left:675px;top:720px;width:1px;height:7px;background:#a0a0a0"></div>
<div class="a" style="left:685px;top:720px;width:1px;height:7px;background:#a0a0a0"></div>
<div class="a" style="left:695px;top:720px;width:1px;height:7px;background:#a0a0a0"></div>
<div class="a" style="left:705px;top:720px;width:1px;height:7px;background:#a0a0a0"></div>
<div class="a" style="left:666px;top:731px;width:5px;height:3px;background:#00a000"></div>
<div class="a" style="left:673px;top:731px;width:5px;height:3px;background:#00a000"></div>
<div class="a" style="left:680px;top:731px;width:5px;height:3px;background:#00a000"></div>
<div class="a" style="left:687px;top:731px;width:5px;height:3px;background:#00a000"></div>
<div class="a" style="left:694px;top:731px;width:5px;height:3px;background:#00a000"></div>
<div class="a" style="left:701px;top:731px;width:5px;height:3px;background:#00a000"></div>
<div class="a" style="left:708px;top:731px;width:5px;height:3px;background:#00a000"></div>
<div class="a" style="left:717px;top:720px;width:50px;height:7px;background:#fff;border:1px solid #a0a0a0"></div>
<div class="a" style="left:727px;top:720px;width:1px;height:7px;background:#a0a0a0"></div>
<div class="a" style="left:737px;top:720px;width:1px;height:7px;background:#a0a0a0"></div>
<div class="a" style="left:747px;top:720px;width:1px;height:7px;background:#a0a0a0"></div>
<div class="a" style="left:757px;top:720px;width:1px;height:7px;background:#a0a0a0"></div>
<div class="a" style="left:718px;top:731px;width:5px;height:3px;background:#ff0000"></div>
<div class="a" style="left:725px;top:731px;width:5px;height:3px;background:#ff0000"></div>
<div class="a" style="left:732px;top:731px;width:5px;height:3px;background:#ff0000"></div>
<div class="a" style="left:739px;top:731px;width:5px;height:3px;background:#ff0000"></div>
<div class="a" style="left:746px;top:731px;width:5px;height:3px;background:#ff0000"></div>
<div class="a" style="left:753px;top:731px;width:5px;height:3px;background:#ff0000"></div>
<div class="a" style="left:760px;top:731px;width:5px;height:3px;background:#ff0000"></div>
<div class="a" style="left:689px;top:721px;width:2px;height:5px;background:#ff0000"></div>
<div class="a" style="left:742px;top:721px;width:2px;height:5px;background:#ff0000"></div><div class="a" style="left:744px;top:721px;width:1px;height:5px;background:#00a000"></div>
<svg class="a" style="left:1300px;top:719px" width="66" height="19" shape-rendering="crispEdges"><path d="M4 2.5H10L13.5 6V12L10 15.5H4L0.5 12V6Z" fill="#e8e860" stroke="#a0a000" shape-rendering="auto"/><path d="M7 5L10 8H4Z" fill="#8a8a00"/><rect x="6" y="9" width="2" height="1" fill="#8a8a00"/><rect x="6" y="11" width="2" height="1" fill="#8a8a00"/><path d="M20.5 4V7M29.5 4V7M22.5 5V8M27.5 5V8" stroke="#9a9a00"/><rect x="24" y="4" width="2" height="6" fill="#888"/><rect x="24.5" y="10.5" width="2" height="2" fill="none" stroke="#888"/><rect x="23.5" y="12.5" width="4" height="3" fill="none" stroke="#888"/><path d="M42.5 3L46 6.5H39ZM42.5 7L46 10.5H39ZM42.5 11L46 15H39Z" fill="#888" shape-rendering="auto"/><rect x="54" y="4" width="3" height="6" fill="#888"/><rect x="55" y="11" width="1" height="2" fill="#888"/></svg>
<div class="a" style="left:1365px;top:717px;width:1px;height:21px;background:#404040"></div>
<div class="a" style="left:0;top:740px;width:1366px;height:28px;background:#d4d0c8;border-top:1px solid #ffffff"></div>
<div class="a" style="left:2px;top:742px;width:47px;height:22px;border:1px solid;border-color:#fff #404040 #404040 #fff;box-shadow:inset -1px -1px 0 #808080;background-color:#d4d0c8"><svg style="position:absolute;left:1px;top:2px" width="17" height="15" shape-rendering="auto"><path d="M2 3Q5 0.5 8 2L7 7Q4 5.5 1 8Z" fill="#f05a1a"/><path d="M9 2Q12 3.5 16 2L15 7Q12 8.5 8 7Z" fill="#5cb82e"/><path d="M1 9Q4 6.5 7 8L6 13Q3 11.5 0 14Z" fill="#2f7ae0"/><path d="M8 8Q11 9.5 15 8L14 13Q11 14.5 7 13Z" fill="#f6c010"/></svg><div style="position:absolute;left:19px;top:4px;font-size:12px;line-height:12px;color:#000">开始</div></div>
<div class="a" style="left:56px;top:744px;width:3px;height:20px;border-left:1px solid #808080;border-right:1px solid #fff;background:#d4d0c8"></div>
<div class="a" style="left:196px;top:744px;width:3px;height:20px;border-left:1px solid #808080;border-right:1px solid #fff;background:#d4d0c8"></div>
<div class="a" style="left:1166px;top:744px;width:3px;height:20px;border-left:1px solid #808080;border-right:1px solid #fff;background:#d4d0c8"></div>
<svg class="a" style="left:66px;top:745px" width="17" height="16" shape-rendering="auto"><rect x="1" y="1" width="13" height="14" rx="3" fill="#3070d0"/><rect x="3" y="3" width="9" height="10" rx="2" fill="#e8f0ff"/><path d="M5 10L10 5" stroke="#3070d0" stroke-width="2"/><circle cx="14" cy="4" r="2" fill="#e04020"/></svg>
<svg class="a" style="left:88px;top:745px" width="17" height="16" shape-rendering="auto"><path d="M3 12Q0 15 3 15Q8 15 14 8Q17 3 15 2Q13 1 9 3" fill="none" stroke="#3b9de8" stroke-width="1.3"/><circle cx="8.5" cy="9" r="5.5" fill="#2c8ce0"/><circle cx="8.5" cy="9" r="3" fill="#fff"/><rect x="5" y="8" width="7" height="2" fill="#2c8ce0"/><path d="M10 10.5H14V12H10Z" fill="#fff"/></svg>
<svg class="a" style="left:134px;top:745px" width="17" height="16" shape-rendering="auto"><path d="M3 12Q0 15 3 15Q8 15 14 8Q17 3 15 2Q13 1 9 3" fill="none" stroke="#3b9de8" stroke-width="1.3"/><circle cx="8.5" cy="9" r="5.5" fill="#2c8ce0"/><circle cx="8.5" cy="9" r="3" fill="#fff"/><rect x="5" y="8" width="7" height="2" fill="#2c8ce0"/><path d="M10 10.5H14V12H10Z" fill="#fff"/></svg>
<div class="a" style="left:112px;top:747px;width:16px;height:14px;background:#fff;border:1px solid #000;border-top:3px solid #0a246a"></div>
<svg class="a" style="left:181px;top:746px" width="10" height="7"><path d="M1 0.5L4 3.5L1 6.5M5 0.5L8 3.5L5 6.5" stroke="#000" stroke-width="1.6" fill="none"/></svg>
<div class="a" style="left:203px;top:742px;width:159px;height:22px;border:1px solid;border-color:#fff #404040 #404040 #fff;box-shadow:inset -1px -1px 0 #808080;background-color:#d4d0c8"><div style="position:absolute;left:4px;top:6px;width:16px;height:8px;background:linear-gradient(#e0e0e0,#909090);border-radius:3px"></div><div style="position:absolute;left:22px;top:4px;font-family:'Liberation Mono',monospace;font-size:11px;line-height:12px;letter-spacing:-0.6px;color:#000">D:\</div></div>
<div class="a" style="left:366px;top:742px;width:158px;height:22px;border:1px solid;border-color:#fff #404040 #404040 #fff;box-shadow:inset -1px -1px 0 #808080;background-color:#d4d0c8"><div style="position:absolute;left:4px;top:4px;width:16px;height:12px;background:linear-gradient(#ffe890,#e0b030);border:1px solid #a08020;border-radius:1px"></div><div style="position:absolute;left:22px;top:4px;font-family:'Liberation Mono',monospace;font-size:11px;line-height:12px;letter-spacing:-0.6px;color:#000">D:\new_hyzq_v6</div></div>
<div class="a" style="left:529px;top:742px;width:159px;height:22px;border:1px solid;border-color:#fff #404040 #404040 #fff;box-shadow:inset -1px -1px 0 #808080;background-color:#d4d0c8"><div style="position:absolute;left:4px;top:3px;width:16px;height:16px;background:#1050c0;color:#fff;font:bold 13px/16px 'Liberation Sans',sans-serif;text-align:center">Z</div><div style="position:absolute;left:22px;top:4px;font-family:'Liberation Mono',monospace;font-size:11px;line-height:12px;letter-spacing:-0.6px;color:#000">2746988: FXCM-USDDe...</div></div>
<div class="a" style="left:692px;top:742px;width:159px;height:22px;border:1px solid;border-color:#404040 #fff #fff #404040;box-shadow:inset 1px 1px 0 #808080;background:repeating-conic-gradient(#ffffff 0 25%, #d4d0c8 0 50%) 0 0/2px 2px;background-color:#d4d0c8"><svg style="position:absolute;left:4px;top:3px" width="17" height="17"><circle cx="8.5" cy="8.5" r="7.5" fill="#4040d0"/><path d="M8.5 4L13 8.5L8.5 13L4 8.5Z" fill="#fff"/></svg><div style="position:absolute;left:24px;top:5px;font-family:'Liberation Mono',monospace;font-size:11px;line-height:12px;letter-spacing:-0.6px;color:#000"><span style="font-family:'Liberation Sans',sans-serif;font-size:12px;letter-spacing:0">宏源证券增强版</span>V6.48...</div></div>
<div class="a" style="left:855px;top:742px;width:158px;height:22px;border:1px solid;border-color:#fff #404040 #404040 #fff;box-shadow:inset -1px -1px 0 #808080;background-color:#d4d0c8"><div style="position:absolute;left:4px;top:3px;width:16px;height:16px;border-radius:50%;background:#2a80e0;color:#fff;font:bold 12px/16px 'Liberation Sans',sans-serif;text-align:center">e</div><div style="position:absolute;left:22px;top:4px;font-family:'Liberation Mono',monospace;font-size:11px;line-height:12px;letter-spacing:-0.6px;color:#000">【&nbsp;&nbsp;&nbsp;&nbsp;&nbsp;&nbsp;】sharkeate...</div></div>
<svg class="a" style="left:1175px;top:746px" width="16" height="16"><rect x="1" y="6" width="14" height="9" fill="#fff" stroke="#000"/><path d="M3 9H13M3 12H13M6 2V6" stroke="#000"/></svg>
<div class="a" style="left:1192px;top:742px;width:171px;height:23px;border:1px solid;border-color:#808080 #fff #fff #808080"></div>
<svg class="a" style="left:1195px;top:745px" width="126" height="18"><rect x="0" y="0" width="17" height="17" fill="#c0c0c0"/><path d="M3 5H14M8.5 3V15M4 8L8 6M13 8L9 6" stroke="#e00000" stroke-width="2"/><rect x="19" y="5" width="9" height="7" fill="#60a0e0" stroke="#405080"/><path d="M20 14H30" stroke="#405080" stroke-width="2"/><path d="M31 3Q33 6 31 9M33 2Q36 6 33 10" stroke="#40c040" fill="none"/><rect x="37" y="2" width="9" height="8" fill="#4060a0"/><rect x="40" y="6" width="9" height="8" fill="#6080c0"/><path d="M44 9L52 17M52 9L44 17" stroke="#e02020" stroke-width="2"/><circle cx="62" cy="9" r="7.5" fill="#d0d000"/><circle cx="62" cy="9" r="5.5" fill="#30a030"/><path d="M58.5 9H65.5M62 5.5V12.5" stroke="#000" stroke-width="2.2"/><ellipse cx="79" cy="9" rx="6" ry="7" fill="#909090"/><circle cx="79" cy="9" r="3" fill="#505050"/><path d="M91 6L96 1L101 6H98V10H94V6Z" fill="#40b040"/><rect x="92" y="9" width="12" height="7" fill="#606060"/><path d="M110 2Q116 4 122 2Q123 11 116 16Q109 11 110 2Z" fill="#1e78ff"/><path d="M112 7L116 11L120 7" stroke="#fff" stroke-width="2" fill="none"/></svg>
<div class="a" style="left:1326px;top:749px;font-size:12px;line-height:12px;color:#000">21:33</div>
</body></html>
